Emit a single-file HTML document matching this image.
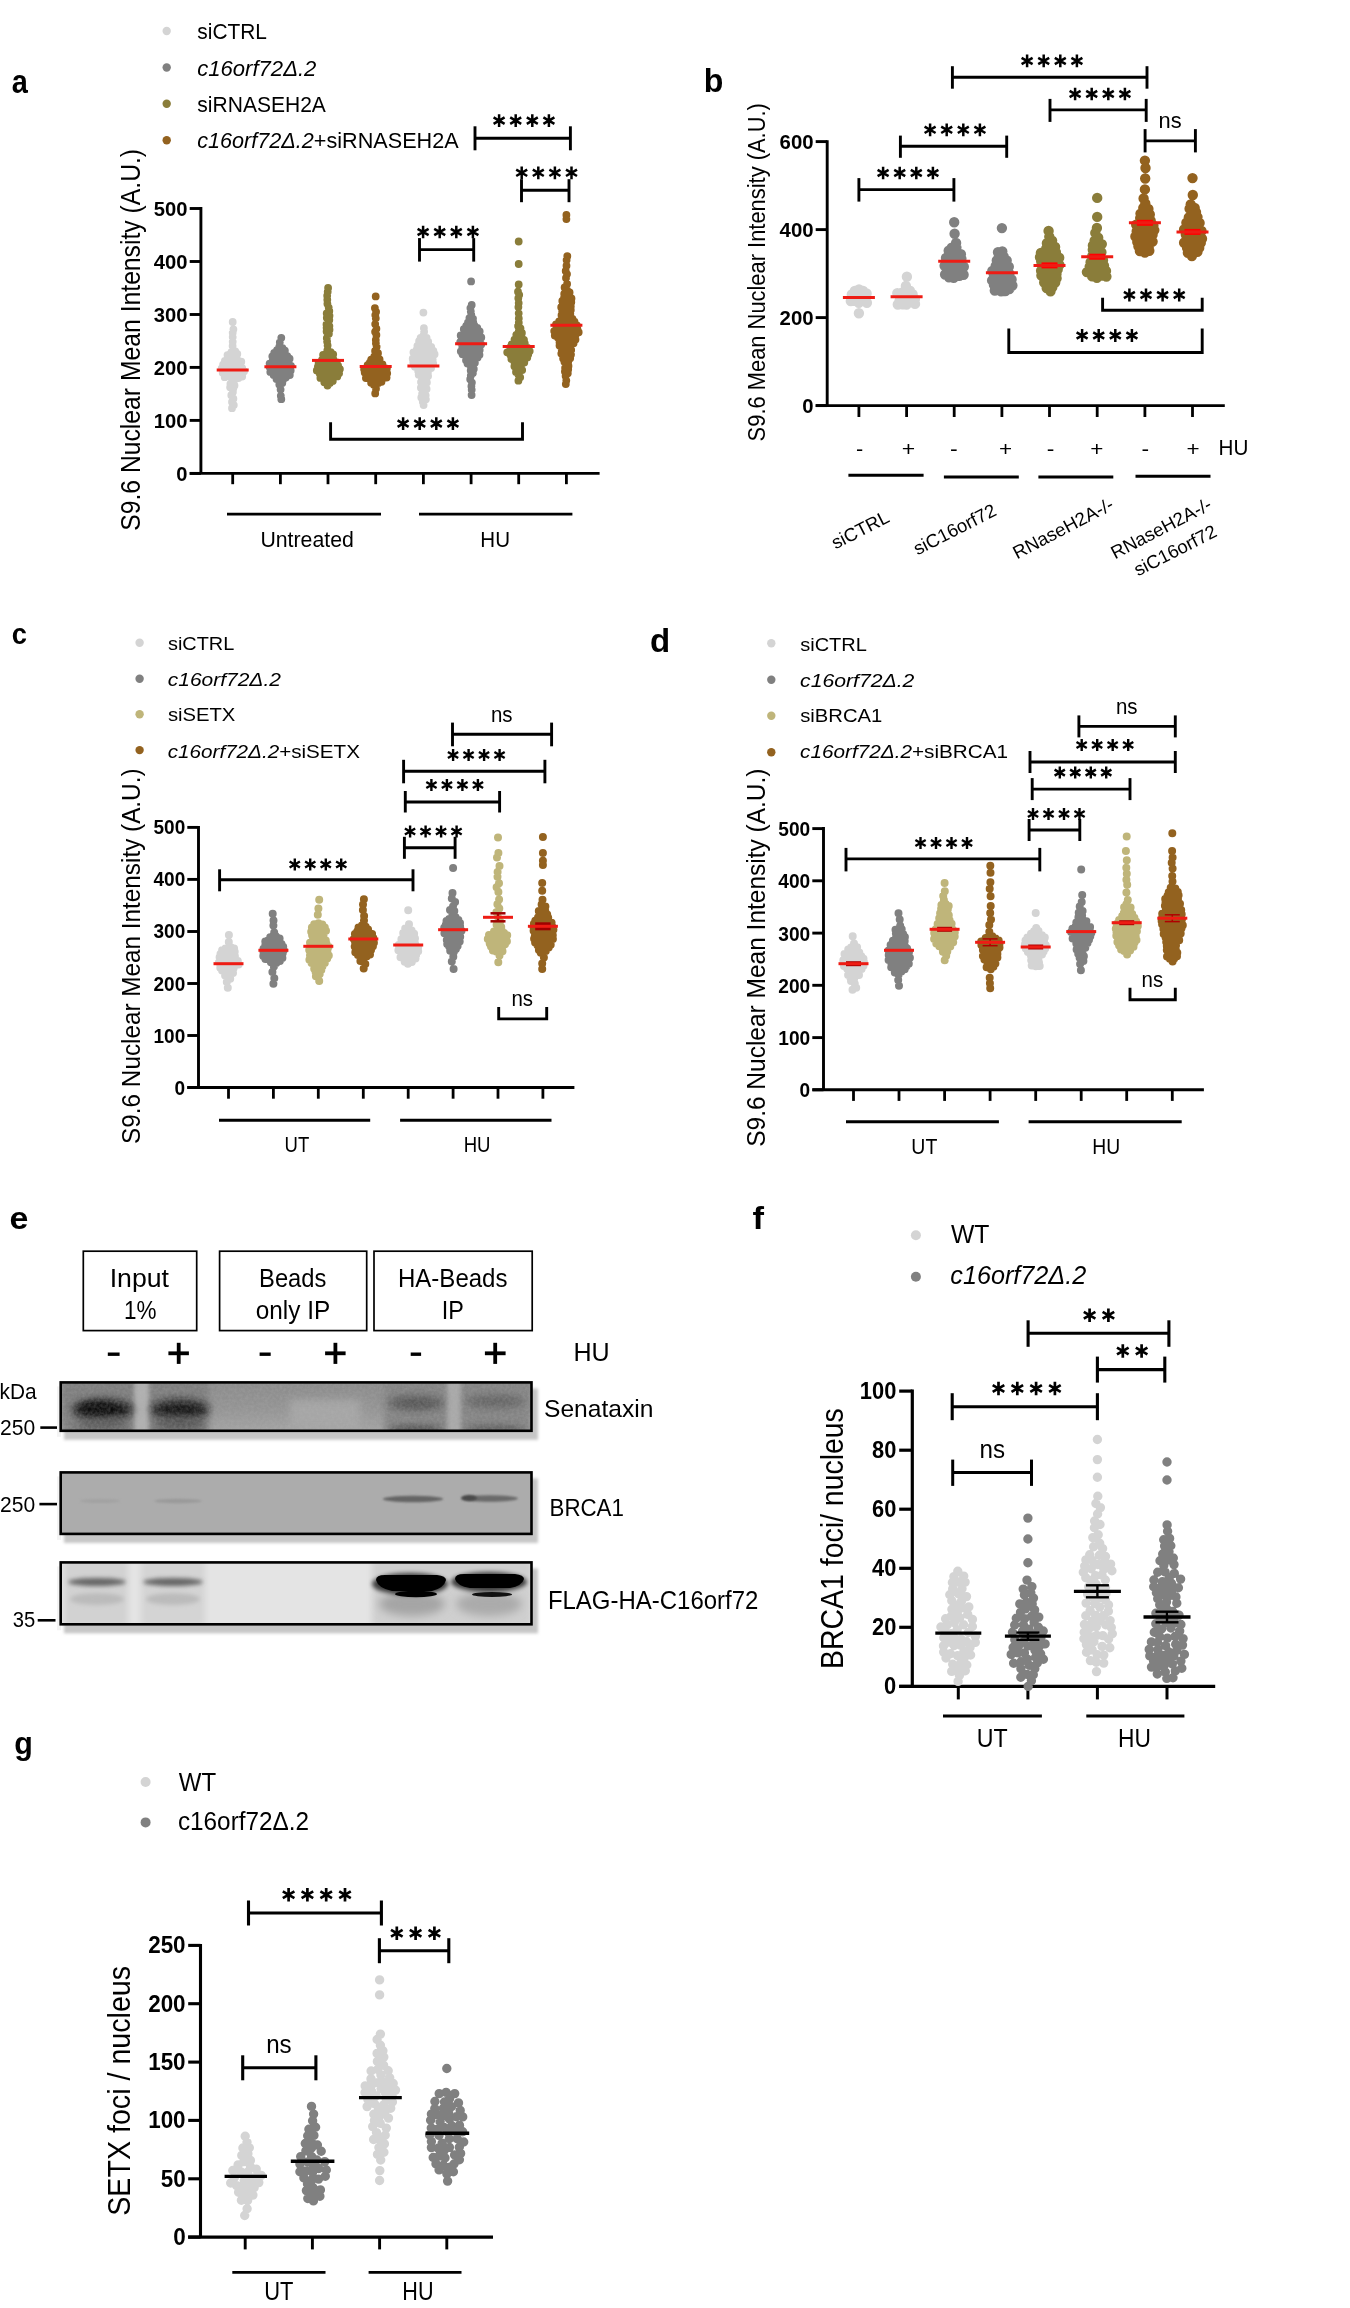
<!DOCTYPE html>
<html><head><meta charset="utf-8"><title>Figure</title>
<style>html,body{margin:0;padding:0;background:#fff;width:1350px;height:2308px;overflow:hidden}
svg{display:block;position:absolute;left:0;top:0;will-change:transform}
text{font-family:"Liberation Sans",sans-serif}</style></head>
<body>
<svg width="1350" height="2308" viewBox="0 0 1350 2308" font-family='"Liberation Sans", sans-serif'>
<rect width="1350" height="2308" fill="#fff"/>
<text x="11.7" y="93.4" font-size="33.2" font-weight="bold" textLength="16.1" lengthAdjust="spacingAndGlyphs">a</text>
<circle cx="166.7" cy="31" r="4.2" fill="#d4d4d4"/>
<circle cx="166.7" cy="67.5" r="4.2" fill="#808080"/>
<circle cx="166.7" cy="103.8" r="4.2" fill="#8a7d3a"/>
<circle cx="166.7" cy="140.3" r="4.2" fill="#93621f"/>
<text x="197.3" y="38.9" font-size="21.2" textLength="69.7" lengthAdjust="spacingAndGlyphs" fill="#000">siCTRL</text>
<text x="197.2" y="75.6" font-size="21.2" textLength="119.2" lengthAdjust="spacingAndGlyphs" fill="#000"><tspan font-style="italic">c16orf72&#916;.2</tspan></text>
<text x="197.3" y="111.5" font-size="21.2" textLength="128.6" lengthAdjust="spacingAndGlyphs" fill="#000">siRNASEH2A</text>
<text x="197.2" y="147.7" font-size="21.2" textLength="261.4" lengthAdjust="spacingAndGlyphs" fill="#000"><tspan font-style="italic">c16orf72&#916;.2</tspan>+siRNASEH2A</text>
<line x1="200.9" y1="473.4" x2="200.9" y2="207.1" stroke="#000" stroke-width="2.9" stroke-linecap="butt"/>
<line x1="189.7" y1="473.4" x2="200.9" y2="473.4" stroke="#000" stroke-width="2.9" stroke-linecap="butt"/>
<text x="176.3" y="480.7" font-size="20.9" font-weight="bold" textLength="11.2" lengthAdjust="spacingAndGlyphs">0</text>
<line x1="189.7" y1="420.4" x2="200.9" y2="420.4" stroke="#000" stroke-width="2.9" stroke-linecap="butt"/>
<text x="153.8" y="427.7" font-size="20.9" font-weight="bold" textLength="33.7" lengthAdjust="spacingAndGlyphs">100</text>
<line x1="189.7" y1="367.4" x2="200.9" y2="367.4" stroke="#000" stroke-width="2.9" stroke-linecap="butt"/>
<text x="153.8" y="374.7" font-size="20.9" font-weight="bold" textLength="33.7" lengthAdjust="spacingAndGlyphs">200</text>
<line x1="189.7" y1="314.5" x2="200.9" y2="314.5" stroke="#000" stroke-width="2.9" stroke-linecap="butt"/>
<text x="153.8" y="321.7" font-size="20.9" font-weight="bold" textLength="33.7" lengthAdjust="spacingAndGlyphs">300</text>
<line x1="189.7" y1="261.5" x2="200.9" y2="261.5" stroke="#000" stroke-width="2.9" stroke-linecap="butt"/>
<text x="153.8" y="268.8" font-size="20.9" font-weight="bold" textLength="33.7" lengthAdjust="spacingAndGlyphs">400</text>
<line x1="189.7" y1="208.5" x2="200.9" y2="208.5" stroke="#000" stroke-width="2.9" stroke-linecap="butt"/>
<text x="153.8" y="215.8" font-size="20.9" font-weight="bold" textLength="33.7" lengthAdjust="spacingAndGlyphs">500</text>
<line x1="189.7" y1="473.4" x2="599.6" y2="473.4" stroke="#000" stroke-width="2.9" stroke-linecap="butt"/>
<line x1="232.7" y1="473.4" x2="232.7" y2="484.2" stroke="#000" stroke-width="2.8" stroke-linecap="butt"/>
<line x1="280.4" y1="473.4" x2="280.4" y2="484.2" stroke="#000" stroke-width="2.8" stroke-linecap="butt"/>
<line x1="328" y1="473.4" x2="328" y2="484.2" stroke="#000" stroke-width="2.8" stroke-linecap="butt"/>
<line x1="375.7" y1="473.4" x2="375.7" y2="484.2" stroke="#000" stroke-width="2.8" stroke-linecap="butt"/>
<line x1="423.4" y1="473.4" x2="423.4" y2="484.2" stroke="#000" stroke-width="2.8" stroke-linecap="butt"/>
<line x1="471.1" y1="473.4" x2="471.1" y2="484.2" stroke="#000" stroke-width="2.8" stroke-linecap="butt"/>
<line x1="518.7" y1="473.4" x2="518.7" y2="484.2" stroke="#000" stroke-width="2.8" stroke-linecap="butt"/>
<line x1="566.4" y1="473.4" x2="566.4" y2="484.2" stroke="#000" stroke-width="2.8" stroke-linecap="butt"/>
<line x1="227" y1="514.1" x2="381" y2="514.1" stroke="#000" stroke-width="2.9" stroke-linecap="butt"/>
<line x1="419" y1="514.1" x2="572.4" y2="514.1" stroke="#000" stroke-width="2.9" stroke-linecap="butt"/>
<text x="260.4" y="547" font-size="22.4" textLength="93.4" lengthAdjust="spacingAndGlyphs" fill="#000">Untreated</text>
<text x="480.3" y="547" font-size="22.4" textLength="29.7" lengthAdjust="spacingAndGlyphs" fill="#000">HU</text>
<text transform="translate(139.8 529.7) rotate(-90)" x="-1.1" y="0" font-size="27.2" textLength="381.9" lengthAdjust="spacingAndGlyphs">S9.6 Nuclear Mean Intensity (A.U.)</text>
<path d="M232 408.2h0M233.4 329.3h0M236.4 369.1h0M232.6 346h0M235.3 351.3h0M232.7 337.1h0M231.7 378.1h0M226.2 369.1h0M234.5 385.4h0M226.5 364.3h0M233.4 398.7h0M236.5 374.9h0M221.7 368.3h0M224.7 377.2h0M233.8 372h0M232.7 332.7h0M231 367.3h0M232.8 363.2h0M235.1 365.7h0M227.5 355.1h0M233.3 388.5h0M231.4 352.1h0M230 370.8h0M229.9 358.4h0M232.7 355.7h0M237.3 354h0M239.3 372.1h0M233.8 405.1h0M222.7 372.7h0M230.4 384h0M236.7 358.1h0M239.8 364.9h0M231.3 395.2h0M228.3 376h0M232.9 391.9h0M238.5 378h0M244.1 371.2h0M234.1 380.4h0M242.2 376.5h0M241.3 361.7h0M232.7 341.7h0M224.9 360.8h0M237 361.5h0M242.2 368.2h0M226.1 372.4h0M233.5 359.5h0M230.1 387.3h0M229.5 361.7h0M232 401.9h0M223.1 364.6h0M232 374.8h0M232.7 321.9h0" stroke="#d4d4d4" stroke-width="7.8" stroke-linecap="round" fill="none"/>
<path d="M281.3 399.2h0M281.3 337.8h0M280.8 395.8h0M277.6 354h0M282.1 362h0M289.8 375h0M270.3 371.9h0M283.1 379.7h0M274.3 366.9h0M284.9 350.7h0M280.9 355.3h0M280.4 369.1h0M282.5 348.1h0M285.4 364.3h0M287.3 356.2h0M276.8 359.2h0M279.3 346.7h0M280.6 389.6h0M272.4 361.4h0M279.9 378.5h0M283.9 370.2h0M273.6 375.1h0M281.6 373.4h0M269.6 366.9h0M285.1 374.1h0M279.3 384.4h0M275.7 363h0M279.1 364h0M288.4 362h0M290.7 370.5h0M275.5 371.1h0M277.3 375.9h0M279.8 342.3h0M277 350.2h0M272.3 356.3h0M291 365.8h0M284.1 357.8h0M286.8 367.9h0M285.8 377.4h0M282.8 366.4h0M281.2 351.2h0M284.5 354.3h0M276.5 379.1h0M274.2 353h0M269.6 363.6h0M282.3 382.9h0M280.2 359h0M287.3 371.2h0M289.6 358.7h0M277.7 367.1h0" stroke="#808080" stroke-width="7.8" stroke-linecap="round" fill="none"/>
<path d="M327.5 385.5h0M328.1 288h0M326.5 324.5h0M327.4 303.8h0M326.6 327.8h0M327.3 299.8h0M326.6 356.1h0M329.3 320h0M329.5 364.9h0M333 357.7h0M327.6 345.4h0M320.4 377.9h0M336.7 370.2h0M336.8 362.3h0M326.7 313.5h0M329.6 361h0M324.6 375.5h0M327.1 341.5h0M328.9 333.8h0M327.2 295.7h0M324.9 378.8h0M331.9 368.7h0M330.7 352.2h0M339.1 373.3h0M327.3 350.3h0M333.1 373.4h0M322 359.9h0M328.7 307.6h0M328.9 379.5h0M321.3 367.3h0M327.6 371.5h0M334 377.1h0M319.7 373.5h0M323.1 355h0M325.5 361.4h0M334 365.8h0M317.9 366.6h0M326.8 338.2h0M322.4 363.6h0M324.4 369.4h0M316.8 370.5h0M327.7 291.8h0M332.8 380.9h0M338.1 365.7h0M326.8 317.8h0M329.5 376.1h0M339.9 369.1h0M329.5 329.7h0M324.3 382.2h0M333.5 362.4h0M323.1 372.6h0M325.7 365.4h0M329.3 311h0M330 355.8h0M318.6 363h0M329.4 326.1h0M328.5 368.1h0M329.9 383.1h0M329.5 315.7h0M337.3 376.4h0M333.2 354.3h0M326.6 331.4h0" stroke="#8a7d3a" stroke-width="7.8" stroke-linecap="round" fill="none"/>
<path d="M375.2 393.4h0M374.9 308.1h0M371.2 359.6h0M370.6 374.5h0M370.1 378.7h0M378.5 376.9h0M375.8 318.3h0M376.6 346.7h0M374.2 356.6h0M375.2 324.1h0M375.8 340h0M378 353.2h0M373.8 384.8h0M374.4 368.4h0M381.5 381.8h0M367.6 365.1h0M386.9 368.6h0M376 388.7h0M375.6 380.6h0M378.4 383h0M383.4 372.2h0M375.1 350.9h0M376.4 334.9h0M376.1 311.8h0M383.2 376.7h0M382.5 364.5h0M373.9 361.7h0M364.1 369.2h0M367.7 371h0M380.4 368.7h0M386.6 377.6h0M375.9 343.3h0M378.9 363.3h0M371.1 366h0M376.4 328.7h0M365.9 378.1h0M376.6 371.4h0M379.6 359.4h0M374.2 377h0M379.8 372.6h0M372.3 371.3h0M371.1 382.8h0M364.7 372.5h0M375.9 365h0M387.2 373.3h0M375.1 331.8h0M377.7 356.6h0M367.3 374.6h0M375.3 315.1h0M369.8 362.6h0M383.6 367.8h0M375.7 296.4h0" stroke="#93621f" stroke-width="7.8" stroke-linecap="round" fill="none"/>
<path d="M423.6 405.1h0M423.9 328.2h0M423.2 335.8h0M416.9 361h0M427.9 346.2h0M425.7 395.3h0M426.6 389h0M426.6 338h0M421 382.1h0M422.1 393.9h0M427.5 358.7h0M426.1 379.1h0M423 368.1h0M433.4 350.9h0M424.1 331.7h0M422.4 359.4h0M427.9 372.7h0M422.5 344.5h0M426.9 382.4h0M414.9 366.7h0M419.9 355.3h0M430.9 355.6h0M427.2 368.4h0M416.7 349.7h0M420.9 387.7h0M432.7 359.7h0M419.1 341.2h0M415.2 355.7h0M419.7 366.9h0M422.8 401.7h0M427.2 354.7h0M424.7 342h0M421.9 377.8h0M418.7 374.7h0M421.3 397.4h0M431.1 368h0M422.7 352.2h0M423.9 373.5h0M425 363.6h0M430 351.2h0M413.2 362.2h0M433.2 363.5h0M418.2 371.1h0M413.4 352.3h0M423 348.9h0M417.4 345.9h0M421.7 362.7h0M429.3 364.8h0M425.9 399.3h0M423 390.6h0M434.6 354.2h0M412.7 358.7h0M424.3 385.4h0M431.2 346.8h0M427 349.6h0M428.2 341.7h0M428.1 376.1h0M424.5 356.7h0M420.6 338h0M417.4 353.1h0M429.7 361.2h0M420 350.3h0M417.4 364.5h0M421.6 371.2h0M423.4 312.6h0" stroke="#d4d4d4" stroke-width="7.8" stroke-linecap="round" fill="none"/>
<path d="M471.6 395h0M471.7 304.9h0M460.8 351.3h0M476.5 335.3h0M471.6 329.3h0M472.1 333.6h0M473.3 322.5h0M467.8 333.2h0M468 322.5h0M474.6 342h0M474.6 347.7h0M470.9 366.9h0M471.9 382.6h0M477.3 327.8h0M474.4 358.1h0M470.6 362.5h0M470.8 311.4h0M468.6 351.9h0M471.7 389.8h0M469.4 318.1h0M471.4 386.2h0M462.9 338.3h0M464.2 332.5h0M474.7 354.7h0M464.5 343.8h0M466 360.3h0M467.9 329.3h0M475.8 331.2h0M470.7 370.4h0M462.3 347.1h0M479.5 354.8h0M479.7 331.5h0M460.7 335.4h0M479.6 341.4h0M465.7 355.5h0M470.2 379.2h0M473.4 351.1h0M479.7 350h0M468.4 358h0M471.3 314.9h0M481.3 337.4h0M468.1 348.6h0M481.2 344.4h0M470.8 375.6h0M467.4 339h0M471.8 339.1h0M471 346.1h0M470.2 355h0M473 318.6h0M469.8 325.4h0M460.2 342.1h0M474.9 362.8h0M470.4 308.1h0M474.5 325.6h0M478.3 346.8h0M462.5 354.3h0M476.5 338.8h0M466.2 326h0M467.5 363.6h0M464.2 350.2h0M468 344.7h0M476.8 351.9h0M470.9 342.6h0M463.8 329.2h0M473.8 369h0M465.3 335.9h0M470.1 336.1h0M472.9 372.9h0M477.6 357.6h0M471.1 281.4h0" stroke="#808080" stroke-width="7.8" stroke-linecap="round" fill="none"/>
<path d="M518.4 380.7h0M518 291.7h0M518.8 322.7h0M518.9 348.1h0M518.4 374.5h0M518.4 307.1h0M510.4 354.9h0M510.2 347.5h0M519.9 342.6h0M518.8 318.5h0M518.7 313.3h0M514.5 339.6h0M517.9 369.2h0M518.7 303.1h0M515.8 355.9h0M520.2 359.9h0M527.7 347.8h0M514.4 366.2h0M518.1 326h0M526 351.3h0M522.8 355.8h0M514 361.1h0M524.3 362.5h0M529.7 351.1h0M524.8 343.4h0M521.1 365.3h0M518.8 331.2h0M527.3 357.6h0M516.3 334.8h0M507.2 352.3h0M518.3 298.2h0M513.3 349.8h0M522 345.7h0M521.6 337.1h0M516.8 343.8h0M518.7 353.3h0M515.5 347h0M522.2 370.1h0M511.4 359h0M519.2 294.8h0M517.2 362h0M518.6 339.1h0M511.6 344.4h0M521.9 332.9h0M522.8 350.3h0M520.2 377.3h0M524 340h0M519.4 356.6h0M517.7 365.3h0M524.3 359h0M528.3 354.3h0M516.6 350.6h0M516 372h0M513.6 353.4h0M520.5 328.3h0M518.7 284.4h0M518.7 264h0M518.7 241.5h0" stroke="#8a7d3a" stroke-width="7.8" stroke-linecap="round" fill="none"/>
<path d="M565.8 384.1h0M567.3 256.2h0M567.8 373.2h0M566.3 325.4h0M571.2 350h0M560.7 335.6h0M567.8 295.7h0M568.5 365.9h0M574.5 321.6h0M566.6 358.8h0M572.5 318.9h0M562.1 319.2h0M564.7 352.9h0M564.4 361.7h0M570.3 345.7h0M565.1 340.4h0M561.3 330.7h0M565.6 376.1h0M572.3 334.7h0M570.8 309.9h0M568.8 327.6h0M577.4 328.8h0M564.2 293.9h0M567.8 301.3h0M566.8 355.5h0M567.1 283.9h0M565.6 306.7h0M561.7 349.5h0M566 278h0M566.5 265.7h0M573.6 343.2h0M559.5 342.3h0M568.3 331.1h0M568.6 316.6h0M566.8 347.1h0M562.3 300.9h0M567.7 338h0M567 289.9h0M568.2 361.9h0M554.2 331.1h0M563.1 358.6h0M565.1 317.3h0M565.9 312.1h0M566.1 334.9h0M573.3 326.7h0M562.8 304.3h0M570.8 306.5h0M562.4 327.4h0M566.3 380.6h0M569.9 341.5h0M565.1 368h0M556.5 327.8h0M562.9 345.3h0M571.5 298.5h0M565.7 270.9h0M559.1 321.3h0M575.8 334.6h0M569.2 320.4h0M571.3 338.2h0M564.6 287.5h0M564.7 331.6h0M559.2 325.3h0M571.9 331.4h0M562.2 311.4h0M561.5 315.2h0M575.5 339.4h0M566.6 260h0M571 354.6h0M570.3 313.7h0M561.1 339.3h0M571.3 302.2h0M561.3 353.6h0M554.8 335.5h0M561.2 307.2h0M564.1 297.6h0M570.2 324.3h0M563.9 322.7h0M557.8 337.6h0M569.6 292.5h0M567 274.1h0M567.8 350.6h0M578.7 332.2h0M559.5 345.6h0M558 331.1h0M576.9 325.5h0M570.2 358.3h0M564.9 371.5h0M566.3 343.6h0M568.2 369.5h0M556 324.4h0M566.4 219.1h0M566.4 214.9h0" stroke="#93621f" stroke-width="7.8" stroke-linecap="round" fill="none"/>
<line x1="216.7" y1="369.9" x2="248.7" y2="369.9" stroke="#ee1c14" stroke-width="3" stroke-linecap="butt"/>
<line x1="264.4" y1="366.7" x2="296.4" y2="366.7" stroke="#ee1c14" stroke-width="3" stroke-linecap="butt"/>
<line x1="312" y1="360.4" x2="344" y2="360.4" stroke="#ee1c14" stroke-width="3" stroke-linecap="butt"/>
<line x1="359.7" y1="366.4" x2="391.7" y2="366.4" stroke="#ee1c14" stroke-width="3" stroke-linecap="butt"/>
<line x1="407.4" y1="366.1" x2="439.4" y2="366.1" stroke="#ee1c14" stroke-width="3" stroke-linecap="butt"/>
<line x1="455.1" y1="343.8" x2="487.1" y2="343.8" stroke="#ee1c14" stroke-width="3" stroke-linecap="butt"/>
<line x1="502.7" y1="346.4" x2="534.7" y2="346.4" stroke="#ee1c14" stroke-width="3" stroke-linecap="butt"/>
<line x1="550.4" y1="325.3" x2="582.4" y2="325.3" stroke="#ee1c14" stroke-width="3" stroke-linecap="butt"/>
<line x1="475" y1="138.3" x2="570.4" y2="138.3" stroke="#000" stroke-width="2.9" stroke-linecap="butt"/>
<line x1="475" y1="126.3" x2="475" y2="150.3" stroke="#000" stroke-width="2.9" stroke-linecap="butt"/>
<line x1="570.4" y1="126.3" x2="570.4" y2="150.3" stroke="#000" stroke-width="2.9" stroke-linecap="butt"/>
<path d="M499.1 114.2L499.1 126.9M493.6 117.4L504.6 123.8M493.6 123.8L504.6 117.4" stroke="#000" stroke-width="2.5" stroke-linecap="butt"/>
<path d="M515.7 114.2L515.7 126.9M510.2 117.4L521.2 123.8M510.2 123.8L521.2 117.4" stroke="#000" stroke-width="2.5" stroke-linecap="butt"/>
<path d="M532.3 114.2L532.3 126.9M526.8 117.4L537.8 123.8M526.8 123.8L537.8 117.4" stroke="#000" stroke-width="2.5" stroke-linecap="butt"/>
<path d="M548.9 114.2L548.9 126.9M543.4 117.4L554.4 123.8M543.4 123.8L554.4 117.4" stroke="#000" stroke-width="2.5" stroke-linecap="butt"/>
<line x1="521.5" y1="190.2" x2="569" y2="190.2" stroke="#000" stroke-width="2.9" stroke-linecap="butt"/>
<line x1="521.5" y1="179.2" x2="521.5" y2="202.2" stroke="#000" stroke-width="2.9" stroke-linecap="butt"/>
<line x1="569" y1="179.2" x2="569" y2="202.2" stroke="#000" stroke-width="2.9" stroke-linecap="butt"/>
<path d="M521.7 166.5L521.7 179.2M516.2 169.6L527.2 176M516.2 176L527.2 169.6" stroke="#000" stroke-width="2.5" stroke-linecap="butt"/>
<path d="M538.3 166.5L538.3 179.2M532.8 169.6L543.8 176M532.8 176L543.8 169.6" stroke="#000" stroke-width="2.5" stroke-linecap="butt"/>
<path d="M554.9 166.5L554.9 179.2M549.4 169.6L560.4 176M549.4 176L560.4 169.6" stroke="#000" stroke-width="2.5" stroke-linecap="butt"/>
<path d="M571.5 166.5L571.5 179.2M566 169.6L577 176M566 176L577 169.6" stroke="#000" stroke-width="2.5" stroke-linecap="butt"/>
<line x1="419.5" y1="249.6" x2="473.7" y2="249.6" stroke="#000" stroke-width="2.9" stroke-linecap="butt"/>
<line x1="419.5" y1="238.1" x2="419.5" y2="261.6" stroke="#000" stroke-width="2.9" stroke-linecap="butt"/>
<line x1="473.7" y1="238.1" x2="473.7" y2="261.6" stroke="#000" stroke-width="2.9" stroke-linecap="butt"/>
<path d="M423.1 225.7L423.1 238.3M417.6 228.8L428.6 235.2M417.6 235.2L428.6 228.8" stroke="#000" stroke-width="2.5" stroke-linecap="butt"/>
<path d="M439.7 225.7L439.7 238.3M434.2 228.8L445.2 235.2M434.2 235.2L445.2 228.8" stroke="#000" stroke-width="2.5" stroke-linecap="butt"/>
<path d="M456.3 225.7L456.3 238.3M450.8 228.8L461.8 235.2M450.8 235.2L461.8 228.8" stroke="#000" stroke-width="2.5" stroke-linecap="butt"/>
<path d="M472.9 225.7L472.9 238.3M467.4 228.8L478.4 235.2M467.4 235.2L478.4 228.8" stroke="#000" stroke-width="2.5" stroke-linecap="butt"/>
<path d="M330.6 422.2L330.6 439.2L522.5 439.2L522.5 422.2" fill="none" stroke="#000" stroke-width="2.9" stroke-linejoin="miter"/>
<path d="M403.1 417.2L403.1 430M397.6 420.4L408.6 426.8M397.6 426.8L408.6 420.4" stroke="#000" stroke-width="2.5" stroke-linecap="butt"/>
<path d="M419.7 417.2L419.7 430M414.2 420.4L425.2 426.8M414.2 426.8L425.2 420.4" stroke="#000" stroke-width="2.5" stroke-linecap="butt"/>
<path d="M436.3 417.2L436.3 430M430.8 420.4L441.8 426.8M430.8 426.8L441.8 420.4" stroke="#000" stroke-width="2.5" stroke-linecap="butt"/>
<path d="M452.9 417.2L452.9 430M447.4 420.4L458.4 426.8M447.4 426.8L458.4 420.4" stroke="#000" stroke-width="2.5" stroke-linecap="butt"/>
<text x="703.7" y="91.7" font-size="32.7" font-weight="bold" textLength="19.6" lengthAdjust="spacingAndGlyphs">b</text>
<line x1="827.2" y1="405.6" x2="827.2" y2="140.2" stroke="#000" stroke-width="2.9" stroke-linecap="butt"/>
<line x1="815.7" y1="405.6" x2="827.2" y2="405.6" stroke="#000" stroke-width="2.9" stroke-linecap="butt"/>
<text x="802.3" y="412.9" font-size="20.9" font-weight="bold" textLength="11.3" lengthAdjust="spacingAndGlyphs">0</text>
<line x1="815.7" y1="317.6" x2="827.2" y2="317.6" stroke="#000" stroke-width="2.9" stroke-linecap="butt"/>
<text x="779.6" y="324.9" font-size="20.9" font-weight="bold" textLength="34" lengthAdjust="spacingAndGlyphs">200</text>
<line x1="815.7" y1="229.6" x2="827.2" y2="229.6" stroke="#000" stroke-width="2.9" stroke-linecap="butt"/>
<text x="779.6" y="236.9" font-size="20.9" font-weight="bold" textLength="34" lengthAdjust="spacingAndGlyphs">400</text>
<line x1="815.7" y1="141.6" x2="827.2" y2="141.6" stroke="#000" stroke-width="2.9" stroke-linecap="butt"/>
<text x="779.6" y="148.9" font-size="20.9" font-weight="bold" textLength="34" lengthAdjust="spacingAndGlyphs">600</text>
<line x1="815.7" y1="405.6" x2="1224.8" y2="405.6" stroke="#000" stroke-width="2.9" stroke-linecap="butt"/>
<line x1="858.9" y1="405.6" x2="858.9" y2="417" stroke="#000" stroke-width="2.8" stroke-linecap="butt"/>
<line x1="906.6" y1="405.6" x2="906.6" y2="417" stroke="#000" stroke-width="2.8" stroke-linecap="butt"/>
<line x1="954.2" y1="405.6" x2="954.2" y2="417" stroke="#000" stroke-width="2.8" stroke-linecap="butt"/>
<line x1="1001.9" y1="405.6" x2="1001.9" y2="417" stroke="#000" stroke-width="2.8" stroke-linecap="butt"/>
<line x1="1049.5" y1="405.6" x2="1049.5" y2="417" stroke="#000" stroke-width="2.8" stroke-linecap="butt"/>
<line x1="1097.2" y1="405.6" x2="1097.2" y2="417" stroke="#000" stroke-width="2.8" stroke-linecap="butt"/>
<line x1="1144.9" y1="405.6" x2="1144.9" y2="417" stroke="#000" stroke-width="2.8" stroke-linecap="butt"/>
<line x1="1192.5" y1="405.6" x2="1192.5" y2="417" stroke="#000" stroke-width="2.8" stroke-linecap="butt"/>
<text transform="translate(765 440.4) rotate(-90)" x="-1" y="0" font-size="23.1" textLength="338.3" lengthAdjust="spacingAndGlyphs">S9.6 Mean Nuclear Intensity (A.U.)</text>
<text x="856.1" y="455.5" font-size="21" textLength="7.2" lengthAdjust="spacingAndGlyphs" fill="#000">-</text>
<text x="950" y="455.5" font-size="21" textLength="7.7" lengthAdjust="spacingAndGlyphs" fill="#000">-</text>
<text x="1046.8" y="455.5" font-size="21" textLength="7.6" lengthAdjust="spacingAndGlyphs" fill="#000">-</text>
<text x="1141.4" y="455.5" font-size="21" textLength="7.6" lengthAdjust="spacingAndGlyphs" fill="#000">-</text>
<text x="901.7" y="455.5" font-size="21" textLength="13.4" lengthAdjust="spacingAndGlyphs" fill="#000">+</text>
<text x="999.1" y="455.5" font-size="21" textLength="13.1" lengthAdjust="spacingAndGlyphs" fill="#000">+</text>
<text x="1090.3" y="455.5" font-size="21" textLength="13.1" lengthAdjust="spacingAndGlyphs" fill="#000">+</text>
<text x="1186.4" y="455.5" font-size="21" textLength="13.1" lengthAdjust="spacingAndGlyphs" fill="#000">+</text>
<text x="1218.5" y="454.9" font-size="22.7" textLength="29.8" lengthAdjust="spacingAndGlyphs" fill="#000">HU</text>
<line x1="848.4" y1="475.3" x2="923.6" y2="475.3" stroke="#000" stroke-width="2.9" stroke-linecap="butt"/>
<line x1="943.9" y1="477" x2="1018.8" y2="477" stroke="#000" stroke-width="2.9" stroke-linecap="butt"/>
<line x1="1038.4" y1="477" x2="1113.3" y2="477" stroke="#000" stroke-width="2.9" stroke-linecap="butt"/>
<line x1="1135.5" y1="476.3" x2="1210.5" y2="476.3" stroke="#000" stroke-width="2.9" stroke-linecap="butt"/>
<text x="835.5" y="549.5" font-size="18.6" text-anchor="start" transform="rotate(-27 835.5 549.5)" fill="#000">siCTRL</text>
<text x="917.5" y="555.5" font-size="18.6" text-anchor="start" transform="rotate(-27 917.5 555.5)" fill="#000">siC16orf72</text>
<text x="1017" y="559.5" font-size="18.6" text-anchor="start" transform="rotate(-27.5 1017 559.5)" fill="#000">RNaseH2A-/-</text>
<text x="1115" y="559.5" font-size="18.6" text-anchor="start" transform="rotate(-27.5 1115 559.5)" fill="#000">RNaseH2A-/-</text>
<text x="1138" y="576.5" font-size="18.6" text-anchor="start" transform="rotate(-27 1138 576.5)" fill="#000">siC16orf72</text>
<path d="M858.8 302.7h0M859 289.5h0M859.1 294.9h0M851.8 294.4h0M865.2 298.7h0M866.6 293.5h0M866.9 302.7h0M850.8 301.1h0M854.8 299.3h0M854.8 290.9h0M863.1 291h0M860.8 298.9h0M858.9 313.3h0" stroke="#d4d4d4" stroke-width="10.4" stroke-linecap="round" fill="none"/>
<path d="M906.5 304.6h0M906.9 276.7h0M905.9 286h0M912.6 294.2h0M899.6 300.6h0M897.3 293.3h0M909.1 300.8h0M904.5 299.8h0M906.1 292.9h0M901.8 292.6h0M914.9 299.3h0M915 303.9h0M897.8 304.5h0M908.9 296.4h0M902.2 304.4h0M909.9 290.8h0" stroke="#d4d4d4" stroke-width="10.4" stroke-linecap="round" fill="none"/>
<path d="M953.7 277.8h0M954.6 233.8h0M947 269.6h0M951.2 254.4h0M956.2 258.8h0M949 277.2h0M956.1 242.9h0M960.4 264h0M956.4 247.4h0M953.1 271.9h0M956.3 266.7h0M959.4 275.9h0M961.8 270.8h0M957 251.8h0M947.8 262.8h0M951.7 247.7h0M953 263.2h0M960.9 254.3h0M946 258h0M951.5 267.5h0M961.4 258.7h0M945.1 274.5h0M951 259.3h0M963.6 274.8h0M963.8 266.7h0M948.7 250.8h0M957.4 271.5h0M944.6 265.7h0M954.2 222.2h0" stroke="#808080" stroke-width="10.4" stroke-linecap="round" fill="none"/>
<path d="M1001.1 291.2h0M1002.3 251.4h0M1006.8 280.4h0M1004.6 265h0M994 275.4h0M998.9 282.3h0M1005.4 285.3h0M993.9 284.7h0M1009.4 273.8h0M995.7 266h0M998.9 256.4h0M1001.6 269.9h0M1003.3 274.4h0M1006.7 260.4h0M1008.8 266.8h0M1003.7 256.8h0M996.6 270.5h0M999.5 276.4h0M1000.6 286.8h0M1011.6 279.4h0M1009.3 289.1h0M994.8 290.6h0M992.1 280.4h0M996.8 260.4h0M1012.4 285.5h0M1001.6 261.2h0M1000.1 265.3h0M1002.7 279.4h0M1006.1 270.4h0M992.3 271h0M998 252.2h0M1005.4 291.1h0M1001.9 228.1h0" stroke="#808080" stroke-width="10.4" stroke-linecap="round" fill="none"/>
<path d="M1050.5 291.2h0M1048.6 230.9h0M1055.1 246.9h0M1046.3 248.5h0M1048.6 260.4h0M1050.8 265.9h0M1057.7 269.5h0M1055.9 252.3h0M1041.2 261.4h0M1049.2 284.2h0M1043.2 267h0M1046.2 272.5h0M1049.3 236.7h0M1046.9 243.2h0M1056.6 261.5h0M1056.5 273.9h0M1054.8 256.9h0M1045 255.5h0M1051.3 253.9h0M1055.2 282.6h0M1052.9 271.3h0M1051.1 245.4h0M1045.4 277.6h0M1050.6 279.9h0M1040.9 253h0M1059.4 264.9h0M1044.2 282.5h0M1052.1 240.6h0M1056.6 278.3h0M1041.4 275.5h0M1050.6 275.2h0M1046.7 288h0M1045.4 263.2h0M1041.1 270.8h0M1052.3 287.3h0M1059.2 257.8h0M1050.5 249.7h0M1040 257.2h0" stroke="#8a7d3a" stroke-width="10.4" stroke-linecap="round" fill="none"/>
<path d="M1096.9 277.8h0M1097.2 216.9h0M1096.3 252.4h0M1098.2 237.7h0M1093.6 269.2h0M1094.8 259.8h0M1098.8 256.6h0M1092.2 276.4h0M1096.9 228h0M1086.9 272.1h0M1106 270.9h0M1090.6 262.2h0M1101.6 275.5h0M1092.8 249.7h0M1104 265.7h0M1099.7 264.1h0M1098.4 247.9h0M1101.8 244.1h0M1092.3 256h0M1101.4 252.2h0M1094.6 240.7h0M1106.4 276.6h0M1092.9 245.4h0M1103 260.2h0M1096.8 273.4h0M1100.9 269.1h0M1089.7 266.6h0M1095.3 232.9h0M1094.8 264.8h0M1097.2 197.9h0" stroke="#8a7d3a" stroke-width="10.4" stroke-linecap="round" fill="none"/>
<path d="M1144.9 252.5h0M1145.5 168h0M1142.8 243.2h0M1144.9 189.4h0M1153.4 225.7h0M1145.2 178.5h0M1152.6 234.8h0M1143.6 198.5h0M1139.9 251h0M1150.7 220.8h0M1143.3 208h0M1152.6 241.6h0M1149.7 229.5h0M1136.7 231.3h0M1145.6 234.6h0M1144.6 227.6h0M1145.7 219.3h0M1148.4 208.9h0M1135.4 236.5h0M1144.9 214.5h0M1140.2 236.6h0M1140.2 218.1h0M1139.7 228.1h0M1148.9 246.3h0M1137.3 242h0M1145.3 203.4h0M1141.8 222.9h0M1149.3 250.7h0M1147.7 240.4h0M1136.2 224.8h0M1140.5 213.6h0M1154.3 230.1h0M1138.4 246.2h0M1149.8 214.5h0M1147.3 223.6h0M1143.9 247.9h0M1141.8 232.1h0M1144.9 160.6h0" stroke="#93621f" stroke-width="10.4" stroke-linecap="round" fill="none"/>
<path d="M1191.9 256h0M1192.8 195h0M1192.3 235.6h0M1191.8 225.9h0M1196.1 239.9h0M1198.4 236.2h0M1195.3 220.9h0M1184.1 242.8h0M1188.8 217.5h0M1191.6 214.2h0M1196.4 226.7h0M1186.4 222.8h0M1194.7 246.7h0M1199.6 222.9h0M1190.5 230.6h0M1190.7 204.4h0M1189.6 208.7h0M1197.5 217.1h0M1200.8 242.8h0M1192.4 250.9h0M1189.5 243.3h0M1185.8 234.4h0M1194.7 207.9h0M1186.4 239.1h0M1197.2 231.1h0M1197.4 251.9h0M1187.9 252.8h0M1184.1 229.4h0M1199.2 247.9h0M1201.5 231h0M1196 212.1h0M1202 238.7h0M1187.1 247.9h0M1191 221.4h0M1192.5 178.1h0" stroke="#93621f" stroke-width="10.4" stroke-linecap="round" fill="none"/>
<rect x="1041.5" y="262.4" width="16" height="6" fill="#ff0000"/>
<rect x="1089.2" y="253.7" width="16" height="6" fill="#ff0000"/>
<rect x="1136.9" y="219.8" width="16" height="6" fill="#ff0000"/>
<rect x="1184.5" y="228.9" width="16" height="6" fill="#ff0000"/>
<line x1="842.9" y1="297.5" x2="874.9" y2="297.5" stroke="#ee1c14" stroke-width="3" stroke-linecap="butt"/>
<line x1="890.6" y1="296.7" x2="922.6" y2="296.7" stroke="#ee1c14" stroke-width="3" stroke-linecap="butt"/>
<line x1="938.2" y1="261.2" x2="970.2" y2="261.2" stroke="#ee1c14" stroke-width="3" stroke-linecap="butt"/>
<line x1="985.9" y1="272.8" x2="1017.9" y2="272.8" stroke="#ee1c14" stroke-width="3" stroke-linecap="butt"/>
<line x1="1033.5" y1="265.4" x2="1065.5" y2="265.4" stroke="#ee1c14" stroke-width="3" stroke-linecap="butt"/>
<line x1="1081.2" y1="256.7" x2="1113.2" y2="256.7" stroke="#ee1c14" stroke-width="3" stroke-linecap="butt"/>
<line x1="1128.9" y1="222.8" x2="1160.9" y2="222.8" stroke="#ee1c14" stroke-width="3" stroke-linecap="butt"/>
<line x1="1176.5" y1="231.9" x2="1208.5" y2="231.9" stroke="#ee1c14" stroke-width="3" stroke-linecap="butt"/>
<line x1="858.9" y1="189.6" x2="953.9" y2="189.6" stroke="#000" stroke-width="2.9" stroke-linecap="butt"/>
<line x1="858.9" y1="178.1" x2="858.9" y2="201.6" stroke="#000" stroke-width="2.9" stroke-linecap="butt"/>
<line x1="953.9" y1="178.1" x2="953.9" y2="201.6" stroke="#000" stroke-width="2.9" stroke-linecap="butt"/>
<path d="M883.1 166.7L883.1 179.3M877.6 169.8L888.6 176.2M877.6 176.2L888.6 169.8" stroke="#000" stroke-width="2.5" stroke-linecap="butt"/>
<path d="M899.7 166.7L899.7 179.3M894.2 169.8L905.2 176.2M894.2 176.2L905.2 169.8" stroke="#000" stroke-width="2.5" stroke-linecap="butt"/>
<path d="M916.3 166.7L916.3 179.3M910.8 169.8L921.8 176.2M910.8 176.2L921.8 169.8" stroke="#000" stroke-width="2.5" stroke-linecap="butt"/>
<path d="M932.9 166.7L932.9 179.3M927.4 169.8L938.4 176.2M927.4 176.2L938.4 169.8" stroke="#000" stroke-width="2.5" stroke-linecap="butt"/>
<line x1="900.4" y1="146.3" x2="1006.7" y2="146.3" stroke="#000" stroke-width="2.9" stroke-linecap="butt"/>
<line x1="900.4" y1="135.6" x2="900.4" y2="157.8" stroke="#000" stroke-width="2.9" stroke-linecap="butt"/>
<line x1="1006.7" y1="135.6" x2="1006.7" y2="157.8" stroke="#000" stroke-width="2.9" stroke-linecap="butt"/>
<path d="M930.1 123.5L930.1 136.2M924.6 126.6L935.6 133M924.6 133L935.6 126.6" stroke="#000" stroke-width="2.5" stroke-linecap="butt"/>
<path d="M946.7 123.5L946.7 136.2M941.2 126.6L952.2 133M941.2 133L952.2 126.6" stroke="#000" stroke-width="2.5" stroke-linecap="butt"/>
<path d="M963.3 123.5L963.3 136.2M957.8 126.6L968.8 133M957.8 133L968.8 126.6" stroke="#000" stroke-width="2.5" stroke-linecap="butt"/>
<path d="M979.9 123.5L979.9 136.2M974.4 126.6L985.4 133M974.4 133L985.4 126.6" stroke="#000" stroke-width="2.5" stroke-linecap="butt"/>
<line x1="952.4" y1="77.2" x2="1147" y2="77.2" stroke="#000" stroke-width="2.9" stroke-linecap="butt"/>
<line x1="952.4" y1="66.2" x2="952.4" y2="88.7" stroke="#000" stroke-width="2.9" stroke-linecap="butt"/>
<line x1="1147" y1="66.2" x2="1147" y2="88.7" stroke="#000" stroke-width="2.9" stroke-linecap="butt"/>
<path d="M1027.1 54.6L1027.1 67.3M1021.6 57.8L1032.6 64.2M1021.6 64.2L1032.6 57.8" stroke="#000" stroke-width="2.5" stroke-linecap="butt"/>
<path d="M1043.7 54.6L1043.7 67.3M1038.2 57.8L1049.2 64.2M1038.2 64.2L1049.2 57.8" stroke="#000" stroke-width="2.5" stroke-linecap="butt"/>
<path d="M1060.3 54.6L1060.3 67.3M1054.8 57.8L1065.8 64.2M1054.8 64.2L1065.8 57.8" stroke="#000" stroke-width="2.5" stroke-linecap="butt"/>
<path d="M1076.9 54.6L1076.9 67.3M1071.4 57.8L1082.4 64.2M1071.4 64.2L1082.4 57.8" stroke="#000" stroke-width="2.5" stroke-linecap="butt"/>
<line x1="1050" y1="109.9" x2="1146.2" y2="109.9" stroke="#000" stroke-width="2.9" stroke-linecap="butt"/>
<line x1="1050" y1="98.9" x2="1050" y2="121.9" stroke="#000" stroke-width="2.9" stroke-linecap="butt"/>
<line x1="1146.2" y1="98.9" x2="1146.2" y2="121.9" stroke="#000" stroke-width="2.9" stroke-linecap="butt"/>
<path d="M1075.1 87.7L1075.1 100.3M1069.6 90.8L1080.6 97.2M1069.6 97.2L1080.6 90.8" stroke="#000" stroke-width="2.5" stroke-linecap="butt"/>
<path d="M1091.7 87.7L1091.7 100.3M1086.2 90.8L1097.2 97.2M1086.2 97.2L1097.2 90.8" stroke="#000" stroke-width="2.5" stroke-linecap="butt"/>
<path d="M1108.3 87.7L1108.3 100.3M1102.8 90.8L1113.8 97.2M1102.8 97.2L1113.8 90.8" stroke="#000" stroke-width="2.5" stroke-linecap="butt"/>
<path d="M1124.9 87.7L1124.9 100.3M1119.4 90.8L1130.4 97.2M1119.4 97.2L1130.4 90.8" stroke="#000" stroke-width="2.5" stroke-linecap="butt"/>
<line x1="1145.1" y1="140.9" x2="1195.4" y2="140.9" stroke="#000" stroke-width="2.9" stroke-linecap="butt"/>
<line x1="1145.1" y1="129.1" x2="1145.1" y2="152.4" stroke="#000" stroke-width="2.9" stroke-linecap="butt"/>
<line x1="1195.4" y1="129.1" x2="1195.4" y2="152.4" stroke="#000" stroke-width="2.9" stroke-linecap="butt"/>
<text x="1158.6" y="127.8" font-size="22" textLength="23.1" lengthAdjust="spacingAndGlyphs" fill="#000">ns</text>
<path d="M1102.6 297.8L1102.6 310.3L1202.2 310.3L1202.2 297.8" fill="none" stroke="#000" stroke-width="2.9" stroke-linejoin="miter"/>
<path d="M1129.4 288.6L1129.4 301.4M1123.9 291.8L1134.9 298.2M1123.9 298.2L1134.9 291.8" stroke="#000" stroke-width="2.5" stroke-linecap="butt"/>
<path d="M1146 288.6L1146 301.4M1140.5 291.8L1151.5 298.2M1140.5 298.2L1151.5 291.8" stroke="#000" stroke-width="2.5" stroke-linecap="butt"/>
<path d="M1162.6 288.6L1162.6 301.4M1157.1 291.8L1168.1 298.2M1157.1 298.2L1168.1 291.8" stroke="#000" stroke-width="2.5" stroke-linecap="butt"/>
<path d="M1179.2 288.6L1179.2 301.4M1173.7 291.8L1184.7 298.2M1173.7 298.2L1184.7 291.8" stroke="#000" stroke-width="2.5" stroke-linecap="butt"/>
<path d="M1008.8 328.5L1008.8 352.5L1202.2 352.5L1202.2 328.5" fill="none" stroke="#000" stroke-width="2.9" stroke-linejoin="miter"/>
<path d="M1082.1 329.1L1082.1 341.9M1076.6 332.3L1087.6 338.7M1076.6 338.7L1087.6 332.3" stroke="#000" stroke-width="2.5" stroke-linecap="butt"/>
<path d="M1098.7 329.1L1098.7 341.9M1093.2 332.3L1104.2 338.7M1093.2 338.7L1104.2 332.3" stroke="#000" stroke-width="2.5" stroke-linecap="butt"/>
<path d="M1115.3 329.1L1115.3 341.9M1109.8 332.3L1120.8 338.7M1109.8 338.7L1120.8 332.3" stroke="#000" stroke-width="2.5" stroke-linecap="butt"/>
<path d="M1131.9 329.1L1131.9 341.9M1126.4 332.3L1137.4 338.7M1126.4 338.7L1137.4 332.3" stroke="#000" stroke-width="2.5" stroke-linecap="butt"/>
<text x="11.8" y="644" font-size="29.2" font-weight="bold" textLength="15.2" lengthAdjust="spacingAndGlyphs">c</text>
<circle cx="139.6" cy="642.8" r="4.2" fill="#d4d4d4"/>
<circle cx="139.6" cy="678.8" r="4.2" fill="#808080"/>
<circle cx="139.6" cy="714.3" r="4.2" fill="#bfb57a"/>
<circle cx="139.6" cy="750.1" r="4.2" fill="#93621f"/>
<text x="168" y="650" font-size="19.1" textLength="66.3" lengthAdjust="spacingAndGlyphs" fill="#000">siCTRL</text>
<text x="167.8" y="686.2" font-size="19.1" textLength="113.1" lengthAdjust="spacingAndGlyphs" fill="#000"><tspan font-style="italic">c16orf72&#916;.2</tspan></text>
<text x="167.9" y="720.9" font-size="19.1" textLength="67.5" lengthAdjust="spacingAndGlyphs" fill="#000">siSETX</text>
<text x="167.8" y="757.5" font-size="19.1" textLength="192.2" lengthAdjust="spacingAndGlyphs" fill="#000"><tspan font-style="italic">c16orf72&#916;.2</tspan>+siSETX</text>
<line x1="198.5" y1="1087.5" x2="198.5" y2="825.9" stroke="#000" stroke-width="2.9" stroke-linecap="butt"/>
<line x1="187.3" y1="1087.5" x2="198.5" y2="1087.5" stroke="#000" stroke-width="2.9" stroke-linecap="butt"/>
<text x="174.6" y="1094.6" font-size="20.4" font-weight="bold" textLength="10.6" lengthAdjust="spacingAndGlyphs">0</text>
<line x1="187.3" y1="1035.5" x2="198.5" y2="1035.5" stroke="#000" stroke-width="2.9" stroke-linecap="butt"/>
<text x="153.5" y="1042.5" font-size="20.4" font-weight="bold" textLength="31.7" lengthAdjust="spacingAndGlyphs">100</text>
<line x1="187.3" y1="983.5" x2="198.5" y2="983.5" stroke="#000" stroke-width="2.9" stroke-linecap="butt"/>
<text x="153.5" y="990.5" font-size="20.4" font-weight="bold" textLength="31.7" lengthAdjust="spacingAndGlyphs">200</text>
<line x1="187.3" y1="931.5" x2="198.5" y2="931.5" stroke="#000" stroke-width="2.9" stroke-linecap="butt"/>
<text x="153.5" y="938.4" font-size="20.4" font-weight="bold" textLength="31.7" lengthAdjust="spacingAndGlyphs">300</text>
<line x1="187.3" y1="879.4" x2="198.5" y2="879.4" stroke="#000" stroke-width="2.9" stroke-linecap="butt"/>
<text x="153.5" y="886.4" font-size="20.4" font-weight="bold" textLength="31.7" lengthAdjust="spacingAndGlyphs">400</text>
<line x1="187.3" y1="827.4" x2="198.5" y2="827.4" stroke="#000" stroke-width="2.9" stroke-linecap="butt"/>
<text x="153.5" y="834.4" font-size="20.4" font-weight="bold" textLength="31.7" lengthAdjust="spacingAndGlyphs">500</text>
<line x1="187.3" y1="1087.5" x2="574.4" y2="1087.5" stroke="#000" stroke-width="2.9" stroke-linecap="butt"/>
<line x1="228.5" y1="1087.5" x2="228.5" y2="1098.7" stroke="#000" stroke-width="2.8" stroke-linecap="butt"/>
<line x1="273.4" y1="1087.5" x2="273.4" y2="1098.7" stroke="#000" stroke-width="2.8" stroke-linecap="butt"/>
<line x1="318.3" y1="1087.5" x2="318.3" y2="1098.7" stroke="#000" stroke-width="2.8" stroke-linecap="butt"/>
<line x1="363.3" y1="1087.5" x2="363.3" y2="1098.7" stroke="#000" stroke-width="2.8" stroke-linecap="butt"/>
<line x1="408.2" y1="1087.5" x2="408.2" y2="1098.7" stroke="#000" stroke-width="2.8" stroke-linecap="butt"/>
<line x1="453.1" y1="1087.5" x2="453.1" y2="1098.7" stroke="#000" stroke-width="2.8" stroke-linecap="butt"/>
<line x1="498" y1="1087.5" x2="498" y2="1098.7" stroke="#000" stroke-width="2.8" stroke-linecap="butt"/>
<line x1="542.9" y1="1087.5" x2="542.9" y2="1098.7" stroke="#000" stroke-width="2.8" stroke-linecap="butt"/>
<line x1="219" y1="1120.2" x2="370.2" y2="1120.2" stroke="#000" stroke-width="2.9" stroke-linecap="butt"/>
<line x1="400.1" y1="1120.2" x2="551.5" y2="1120.2" stroke="#000" stroke-width="2.9" stroke-linecap="butt"/>
<text x="284.6" y="1152.2" font-size="22" textLength="24.7" lengthAdjust="spacingAndGlyphs" fill="#000">UT</text>
<text x="463.7" y="1152.2" font-size="22" textLength="26.8" lengthAdjust="spacingAndGlyphs" fill="#000">HU</text>
<text transform="translate(140.2 1142.8) rotate(-90)" x="-1.1" y="0" font-size="25" textLength="375.4" lengthAdjust="spacingAndGlyphs">S9.6 Nuclear Mean Intensity (A.U.)</text>
<path d="M227.8 987.7h0M228.9 935.1h0M223.8 954.3h0M223.2 960.7h0M225.1 975.4h0M233.6 968.3h0M225.2 963.8h0M219 962.2h0M228.8 942.1h0M230.9 947.6h0M226.7 968.5h0M233.6 961.8h0M230.2 978.7h0M225.5 948.5h0M235.3 965.3h0M226.8 956.9h0M222.1 950.3h0M229.1 972.1h0M237.8 960.9h0M226.8 982h0M228.8 953.8h0M234.7 951.8h0M233 973.1h0M231.5 957.2h0M228.8 960.2h0M220.3 967.8h0M234.9 956.2h0M225.1 972.1h0M230.4 963.7h0M219.6 957.2h0M230.1 968h0M231.2 951.3h0M221.7 964.1h0M223.6 966.9h0M234.1 948.5h0M238.6 964.6h0M222.1 970.6h0M226.1 951.7h0M220.5 953.9h0" stroke="#d4d4d4" stroke-width="8" stroke-linecap="round" fill="none"/>
<path d="M274.3 978.3h0M272.7 913.8h0M273.9 966.4h0M267.5 956h0M274.2 932.6h0M268.5 940.3h0M282.4 958.1h0M275.8 936.3h0M281.5 944h0M271.6 945.6h0M275 958.5h0M274 950.3h0M271.3 955.3h0M265.3 945.3h0M273.5 920.5h0M270.2 937.3h0M279.9 960.9h0M278.7 946.7h0M270.9 962.2h0M273.2 939.3h0M272.4 971.9h0M278.7 951.7h0M263.5 948.7h0M267.2 949h0M278.5 956.6h0M270 952h0M274.4 943.4h0M265.3 941.5h0M263.5 952.2h0M273.4 925.6h0M265.4 959.1h0M268.9 959.1h0M282.7 953.3h0M277.3 940.9h0M263.3 956h0M283.8 950.2h0M274.8 953.6h0M276.3 962.9h0M283.2 946.8h0M279.6 938.6h0M275.5 947.2h0M268.5 944.2h0M271.3 942.1h0M273.4 983.7h0" stroke="#808080" stroke-width="8" stroke-linecap="round" fill="none"/>
<path d="M319.2 980.9h0M319.2 899.7h0M318.4 908.5h0M310.7 946.5h0M315.4 965.3h0M318.4 923.3h0M324.8 927.5h0M315.5 951.4h0M315.7 934.5h0M319.7 973.9h0M320.5 933h0M317.8 914.7h0M319.4 956.1h0M323.4 959.9h0M315.9 976.3h0M318.9 938h0M325.1 953.1h0M325.2 947.4h0M315.1 929h0M319.5 947.6h0M322.1 942.7h0M315.6 971.9h0M323.5 934.9h0M313.8 959.8h0M321.3 970h0M328.8 955.6h0M313 939.1h0M317.7 959.3h0M315.8 948.1h0M320.3 929.3h0M322.3 924.6h0M310 955.3h0M311.9 927.5h0M320.3 962.6h0M322.4 966.5h0M326.5 943.7h0M326 930.8h0M322.8 950.4h0M313.5 943.8h0M310 942.8h0M312.1 935.3h0M316.1 940.6h0M318.1 967.8h0M309.2 949.9h0M317.9 944h0M311.2 931.8h0M314.8 955.9h0M327.4 950.6h0M309.4 959.7h0M325.8 940.4h0M314.2 924.2h0M323.2 955.9h0M322.3 938.7h0M318.1 926.7h0M324.8 963h0M319 952.1h0M328.6 946.7h0M312.1 952.7h0M311.6 962.9h0M327.2 958.5h0M317.4 931.6h0M312.7 949.3h0M314.2 968.7h0" stroke="#bfb57a" stroke-width="8" stroke-linecap="round" fill="none"/>
<path d="M363.7 968.4h0M363.9 899.2h0M357.9 955h0M364.1 916h0M373.3 937.9h0M362.9 910h0M360.7 947.3h0M354.7 946.5h0M371 950h0M363.1 957.7h0M365.2 931.6h0M366 950.3h0M361.2 941.3h0M358.2 936h0M368.5 946.8h0M364 920.5h0M366.9 956.2h0M361.4 937h0M361.9 925.5h0M365.3 964.1h0M361.4 929.4h0M370.1 943.2h0M366.2 944.2h0M361.1 950.8h0M354.9 934h0M353.8 938.9h0M355.1 942.3h0M355.3 952.3h0M365.7 926.8h0M373.9 942.8h0M360.4 961h0M368.9 937.8h0M372.1 934.1h0M362.3 933.6h0M370 954.5h0M368.9 932.8h0M365.5 939.7h0M368.1 929.5h0M372.9 946.3h0M363 904.4h0M357.3 931.2h0M362.9 953.8h0M366.2 934.8h0M358.6 943.7h0M357.4 949.4h0M357.4 939.5h0M362.6 944.4h0M358.5 927.5h0M364.1 947.6h0" stroke="#93621f" stroke-width="8" stroke-linecap="round" fill="none"/>
<path d="M407.9 963.7h0M409 924.2h0M411.6 930.4h0M415 938.6h0M406.7 953.6h0M411.2 940.4h0M401.3 947.3h0M409.4 945.5h0M415 943.4h0M401.4 939.3h0M410.9 958.6h0M416.1 955h0M409.7 948.9h0M407.4 939.3h0M404.7 957.6h0M405.2 928.4h0M398.4 950.2h0M403.2 933h0M404.7 961.7h0M418.2 951.3h0M407.2 934.6h0M401.4 953.4h0M406.9 942.9h0M415.5 958.5h0M414.1 933.7h0M403.2 950.3h0M414.8 949.7h0M412.1 954.7h0M401.8 943.4h0M406.6 947.7h0M411.5 935.8h0M412.9 946.9h0M404.6 936.9h0M400.5 957.2h0M418.1 947.4h0M407.9 930.6h0M411.8 962h0M398.7 945h0M407.7 959.5h0M404.4 940.6h0M408.2 910.3h0" stroke="#d4d4d4" stroke-width="8" stroke-linecap="round" fill="none"/>
<path d="M453.6 968.9h0M452.5 893h0M454.3 910.9h0M461.5 930.7h0M453.8 952h0M449.2 946.6h0M460.1 926.3h0M448.3 936.8h0M455.1 902h0M453.4 939.7h0M452.4 914.7h0M445.8 924.7h0M450.2 950.7h0M458.8 932.7h0M460.2 936.8h0M454.2 945.7h0M451.8 898.4h0M453.1 935.8h0M455.6 917.2h0M457.3 929.1h0M448.9 933h0M454.7 923.1h0M451.8 961.4h0M455.9 949.1h0M452.7 919.5h0M457.6 946.1h0M449.2 919h0M456.4 942h0M453.3 956.8h0M451.4 924h0M446.8 929.8h0M450 927.5h0M459.7 941.5h0M446.8 940h0M451.7 942.9h0M444.2 927.8h0M453.8 928h0M453 906.4h0M456.4 936h0M458.4 920h0M450 910h0M447.2 943.9h0M454.9 931.7h0M444.4 933.3h0M446.5 921h0M460 922.9h0M456.7 925.8h0M451.3 930.7h0M453.1 868h0" stroke="#808080" stroke-width="8" stroke-linecap="round" fill="none"/>
<path d="M498.3 962.3h0M498.4 852.9h0M497 857.6h0M497.6 872.1h0M499.3 908.6h0M499.1 899.6h0M498.4 892h0M496.2 951.5h0M494.1 943.7h0M497.8 916.8h0M497.5 876.8h0M497.8 943.7h0M496.6 924.7h0M498.1 929.5h0M499.1 938.6h0M499.5 866h0M502.3 947.3h0M491.2 939.5h0M499.5 955.4h0M494 931.5h0M499 883.3h0M504.1 933h0M506.9 941.2h0M499.6 934.6h0M494.8 939.8h0M497.9 947.9h0M504.6 937.8h0M507.2 935.3h0M489 935.1h0M502.5 951.3h0M501.2 927.1h0M502.6 942.1h0M489.7 943.4h0M500.1 921.4h0M494.5 947.5h0M494.6 936h0M501.7 930.6h0M487.8 939h0M505 944.3h0M497.4 904.2h0M496.6 887.3h0M492.9 950.4h0M491 946.5h0M496.4 912.3h0M498 837.6h0" stroke="#bfb57a" stroke-width="8" stroke-linecap="round" fill="none"/>
<path d="M542.2 968.9h0M542.2 883.1h0M538 917.6h0M536.9 929.1h0M534.9 935.3h0M540.8 952.8h0M546.2 925.4h0M545.6 945.7h0M543.9 957.6h0M543.2 914.6h0M542.2 890.8h0M540.1 933.1h0M542.5 899.7h0M542 924.2h0M548.4 921.5h0M538.8 911.1h0M550.3 941.5h0M547.2 934.5h0M539.9 940.6h0M543.3 919.5h0M540.7 927.4h0M545.8 951.1h0M542.2 963.5h0M552.1 926.3h0M537.5 945.2h0M544 932.2h0M545.8 942.2h0M548.7 947.6h0M537.8 925.8h0M552.8 935.2h0M541.6 904.6h0M553.4 929.7h0M545.3 911.2h0M538.9 922.4h0M538.5 936.8h0M538.9 950h0M548.5 929.5h0M535.3 920.7h0M545.4 938.8h0M533.6 930.8h0M533.5 927h0M542.4 947.8h0M535.1 942.5h0M542.1 944h0M548.2 917.8h0M547.2 914.5h0M534.1 938.7h0M545.2 922.3h0M539.4 914.5h0M552.9 939.1h0M548.9 937.8h0M545.4 906.5h0M543.1 935.6h0M544.2 928.3h0M550.2 932.5h0M533.9 923.7h0M542.2 909h0M550.7 944.8h0M551.6 922.7h0M542.9 864.9h0M542.9 860.7h0M542.9 853h0M542.9 837h0" stroke="#93621f" stroke-width="8" stroke-linecap="round" fill="none"/>
<line x1="498" y1="913.3" x2="498" y2="921.3" stroke="#a00000" stroke-width="2.5" stroke-linecap="butt"/>
<line x1="490.5" y1="913.3" x2="505.5" y2="913.3" stroke="#a00000" stroke-width="2.5" stroke-linecap="butt"/>
<line x1="490.5" y1="921.3" x2="505.5" y2="921.3" stroke="#a00000" stroke-width="2.5" stroke-linecap="butt"/>
<rect x="535.2" y="922.3" width="15.4" height="8" fill="#a00000"/>
<line x1="213.5" y1="963.7" x2="243.5" y2="963.7" stroke="#ee1c14" stroke-width="3" stroke-linecap="butt"/>
<line x1="258.4" y1="950.3" x2="288.4" y2="950.3" stroke="#ee1c14" stroke-width="3" stroke-linecap="butt"/>
<line x1="303.3" y1="946.3" x2="333.3" y2="946.3" stroke="#ee1c14" stroke-width="3" stroke-linecap="butt"/>
<line x1="348.3" y1="939" x2="378.3" y2="939" stroke="#ee1c14" stroke-width="3" stroke-linecap="butt"/>
<line x1="393.2" y1="945" x2="423.2" y2="945" stroke="#ee1c14" stroke-width="3" stroke-linecap="butt"/>
<line x1="438.1" y1="929.7" x2="468.1" y2="929.7" stroke="#ee1c14" stroke-width="3" stroke-linecap="butt"/>
<line x1="483" y1="917.3" x2="513" y2="917.3" stroke="#ee1c14" stroke-width="3" stroke-linecap="butt"/>
<line x1="527.9" y1="926.3" x2="557.9" y2="926.3" stroke="#ee1c14" stroke-width="3" stroke-linecap="butt"/>
<line x1="219.6" y1="879.8" x2="413" y2="879.8" stroke="#000" stroke-width="2.9" stroke-linecap="butt"/>
<line x1="219.6" y1="869.3" x2="219.6" y2="891.3" stroke="#000" stroke-width="2.9" stroke-linecap="butt"/>
<line x1="413" y1="869.3" x2="413" y2="891.3" stroke="#000" stroke-width="2.9" stroke-linecap="butt"/>
<path d="M294.8 858.5L294.8 870.5M289.6 861.5L299.9 867.5M289.6 867.5L299.9 861.5" stroke="#000" stroke-width="2.4" stroke-linecap="butt"/>
<path d="M310.2 858.5L310.2 870.5M305.1 861.5L315.4 867.5M305.1 867.5L315.4 861.5" stroke="#000" stroke-width="2.4" stroke-linecap="butt"/>
<path d="M325.8 858.5L325.8 870.5M320.6 861.5L330.9 867.5M320.6 867.5L330.9 861.5" stroke="#000" stroke-width="2.4" stroke-linecap="butt"/>
<path d="M341.2 858.5L341.2 870.5M336.1 861.5L346.4 867.5M336.1 867.5L346.4 861.5" stroke="#000" stroke-width="2.4" stroke-linecap="butt"/>
<line x1="404.4" y1="847.8" x2="455.1" y2="847.8" stroke="#000" stroke-width="2.9" stroke-linecap="butt"/>
<line x1="404.4" y1="836.8" x2="404.4" y2="858.8" stroke="#000" stroke-width="2.9" stroke-linecap="butt"/>
<line x1="455.1" y1="836.8" x2="455.1" y2="858.8" stroke="#000" stroke-width="2.9" stroke-linecap="butt"/>
<path d="M410.1 825.5L410.1 837.5M404.9 828.5L415.2 834.5M404.9 834.5L415.2 828.5" stroke="#000" stroke-width="2.4" stroke-linecap="butt"/>
<path d="M425.6 825.5L425.6 837.5M420.4 828.5L430.7 834.5M420.4 834.5L430.7 828.5" stroke="#000" stroke-width="2.4" stroke-linecap="butt"/>
<path d="M441.1 825.5L441.1 837.5M435.9 828.5L446.2 834.5M435.9 834.5L446.2 828.5" stroke="#000" stroke-width="2.4" stroke-linecap="butt"/>
<path d="M456.6 825.5L456.6 837.5M451.4 828.5L461.7 834.5M451.4 834.5L461.7 828.5" stroke="#000" stroke-width="2.4" stroke-linecap="butt"/>
<line x1="405.3" y1="802" x2="499.6" y2="802" stroke="#000" stroke-width="2.9" stroke-linecap="butt"/>
<line x1="405.3" y1="791" x2="405.3" y2="812.5" stroke="#000" stroke-width="2.9" stroke-linecap="butt"/>
<line x1="499.6" y1="791" x2="499.6" y2="812.5" stroke="#000" stroke-width="2.9" stroke-linecap="butt"/>
<path d="M431.4 779L431.4 791M426.3 782L436.6 788M426.3 788L436.6 782" stroke="#000" stroke-width="2.4" stroke-linecap="butt"/>
<path d="M446.9 779L446.9 791M441.8 782L452.1 788M441.8 788L452.1 782" stroke="#000" stroke-width="2.4" stroke-linecap="butt"/>
<path d="M462.4 779L462.4 791M457.3 782L467.6 788M457.3 788L467.6 782" stroke="#000" stroke-width="2.4" stroke-linecap="butt"/>
<path d="M477.9 779L477.9 791M472.8 782L483.1 788M472.8 788L483.1 782" stroke="#000" stroke-width="2.4" stroke-linecap="butt"/>
<line x1="403.6" y1="771.3" x2="544.9" y2="771.3" stroke="#000" stroke-width="2.9" stroke-linecap="butt"/>
<line x1="403.6" y1="759.8" x2="403.6" y2="783.3" stroke="#000" stroke-width="2.9" stroke-linecap="butt"/>
<line x1="544.9" y1="759.8" x2="544.9" y2="783.3" stroke="#000" stroke-width="2.9" stroke-linecap="butt"/>
<path d="M453.1 749L453.1 761M447.9 752L458.2 758M447.9 758L458.2 752" stroke="#000" stroke-width="2.4" stroke-linecap="butt"/>
<path d="M468.6 749L468.6 761M463.4 752L473.7 758M463.4 758L473.7 752" stroke="#000" stroke-width="2.4" stroke-linecap="butt"/>
<path d="M484.1 749L484.1 761M478.9 752L489.2 758M478.9 758L489.2 752" stroke="#000" stroke-width="2.4" stroke-linecap="butt"/>
<path d="M499.6 749L499.6 761M494.4 752L504.7 758M494.4 758L504.7 752" stroke="#000" stroke-width="2.4" stroke-linecap="butt"/>
<line x1="452.5" y1="734.3" x2="551.6" y2="734.3" stroke="#000" stroke-width="2.9" stroke-linecap="butt"/>
<line x1="452.5" y1="722.6" x2="452.5" y2="746.3" stroke="#000" stroke-width="2.9" stroke-linecap="butt"/>
<line x1="551.6" y1="722.6" x2="551.6" y2="746.3" stroke="#000" stroke-width="2.9" stroke-linecap="butt"/>
<text x="490.9" y="721.5" font-size="21.6" textLength="21.6" lengthAdjust="spacingAndGlyphs" fill="#000">ns</text>
<path d="M498.7 1006.9L498.7 1018.9L546.7 1018.9L546.7 1006.9" fill="none" stroke="#000" stroke-width="2.9" stroke-linejoin="miter"/>
<text x="511.4" y="1005.8" font-size="21.6" textLength="21.6" lengthAdjust="spacingAndGlyphs" fill="#000">ns</text>
<text x="650" y="651.6" font-size="34" font-weight="bold" textLength="20.2" lengthAdjust="spacingAndGlyphs">d</text>
<circle cx="771.3" cy="643.3" r="4.2" fill="#d4d4d4"/>
<circle cx="771.3" cy="679.8" r="4.2" fill="#808080"/>
<circle cx="771.3" cy="715.8" r="4.2" fill="#bfb57a"/>
<circle cx="771.3" cy="752.2" r="4.2" fill="#93621f"/>
<text x="800.2" y="650.6" font-size="18.8" textLength="66.7" lengthAdjust="spacingAndGlyphs" fill="#000">siCTRL</text>
<text x="800.1" y="687" font-size="18.8" textLength="114.3" lengthAdjust="spacingAndGlyphs" fill="#000"><tspan font-style="italic">c16orf72&#916;.2</tspan></text>
<text x="800.2" y="722.3" font-size="18.8" textLength="82.1" lengthAdjust="spacingAndGlyphs" fill="#000">siBRCA1</text>
<text x="800.1" y="757.9" font-size="18.8" textLength="208" lengthAdjust="spacingAndGlyphs" fill="#000"><tspan font-style="italic">c16orf72&#916;.2</tspan>+siBRCA1</text>
<line x1="823.5" y1="1089.8" x2="823.5" y2="827.1" stroke="#000" stroke-width="2.9" stroke-linecap="butt"/>
<line x1="812.3" y1="1089.8" x2="823.5" y2="1089.8" stroke="#000" stroke-width="2.9" stroke-linecap="butt"/>
<text x="799.6" y="1097.3" font-size="20.2" font-weight="bold" textLength="10.6" lengthAdjust="spacingAndGlyphs">0</text>
<line x1="812.3" y1="1037.6" x2="823.5" y2="1037.6" stroke="#000" stroke-width="2.9" stroke-linecap="butt"/>
<text x="778.3" y="1045.1" font-size="20.2" font-weight="bold" textLength="31.9" lengthAdjust="spacingAndGlyphs">100</text>
<line x1="812.3" y1="985.3" x2="823.5" y2="985.3" stroke="#000" stroke-width="2.9" stroke-linecap="butt"/>
<text x="778.3" y="992.9" font-size="20.2" font-weight="bold" textLength="31.9" lengthAdjust="spacingAndGlyphs">200</text>
<line x1="812.3" y1="933.1" x2="823.5" y2="933.1" stroke="#000" stroke-width="2.9" stroke-linecap="butt"/>
<text x="778.3" y="940.6" font-size="20.2" font-weight="bold" textLength="31.9" lengthAdjust="spacingAndGlyphs">300</text>
<line x1="812.3" y1="880.8" x2="823.5" y2="880.8" stroke="#000" stroke-width="2.9" stroke-linecap="butt"/>
<text x="778.3" y="888.4" font-size="20.2" font-weight="bold" textLength="31.9" lengthAdjust="spacingAndGlyphs">400</text>
<line x1="812.3" y1="828.6" x2="823.5" y2="828.6" stroke="#000" stroke-width="2.9" stroke-linecap="butt"/>
<text x="778.3" y="836.1" font-size="20.2" font-weight="bold" textLength="31.9" lengthAdjust="spacingAndGlyphs">500</text>
<line x1="812.4" y1="1089.8" x2="1203.9" y2="1089.8" stroke="#000" stroke-width="2.9" stroke-linecap="butt"/>
<line x1="853.5" y1="1089.8" x2="853.5" y2="1100.9" stroke="#000" stroke-width="2.8" stroke-linecap="butt"/>
<line x1="899" y1="1089.8" x2="899" y2="1100.9" stroke="#000" stroke-width="2.8" stroke-linecap="butt"/>
<line x1="944.6" y1="1089.8" x2="944.6" y2="1100.9" stroke="#000" stroke-width="2.8" stroke-linecap="butt"/>
<line x1="990.1" y1="1089.8" x2="990.1" y2="1100.9" stroke="#000" stroke-width="2.8" stroke-linecap="butt"/>
<line x1="1035.7" y1="1089.8" x2="1035.7" y2="1100.9" stroke="#000" stroke-width="2.8" stroke-linecap="butt"/>
<line x1="1081.2" y1="1089.8" x2="1081.2" y2="1100.9" stroke="#000" stroke-width="2.8" stroke-linecap="butt"/>
<line x1="1126.7" y1="1089.8" x2="1126.7" y2="1100.9" stroke="#000" stroke-width="2.8" stroke-linecap="butt"/>
<line x1="1172.3" y1="1089.8" x2="1172.3" y2="1100.9" stroke="#000" stroke-width="2.8" stroke-linecap="butt"/>
<line x1="846" y1="1121.7" x2="998.9" y2="1121.7" stroke="#000" stroke-width="2.9" stroke-linecap="butt"/>
<line x1="1028.6" y1="1121.7" x2="1181.7" y2="1121.7" stroke="#000" stroke-width="2.9" stroke-linecap="butt"/>
<text x="911.3" y="1154.3" font-size="22.3" textLength="26" lengthAdjust="spacingAndGlyphs" fill="#000">UT</text>
<text x="1092.2" y="1154.3" font-size="22.3" textLength="27.9" lengthAdjust="spacingAndGlyphs" fill="#000">HU</text>
<text transform="translate(764.6 1145.7) rotate(-90)" x="-1.1" y="0" font-size="25.6" textLength="378.3" lengthAdjust="spacingAndGlyphs">S9.6 Nuclear Mean Intensity (A.U.)</text>
<path d="M852.5 989.7h0M852.7 936.2h0M847.2 968.7h0M854.8 983.7h0M854.2 954.3h0M863.5 965.8h0M854.2 978.5h0M860.5 960.4h0M858.7 970.7h0M855.3 950.7h0M851 947.5h0M856.9 956.3h0M845.5 957.5h0M854.7 965.9h0M859.7 964.3h0M854.8 974.8h0M854 943.4h0M859.3 952.5h0M848 952.8h0M848.1 974.9h0M849.4 961.9h0M844 966.1h0M850.4 966.2h0M848.8 958h0M855.5 960.6h0M851 981.1h0M861.3 956.3h0M859 974.9h0M845.5 962.8h0M861.6 969h0M852.3 972.4h0M857.1 947.2h0M853.6 969.1h0M853.6 957.7h0M844.5 954h0M843.3 960.3h0M851.3 951.2h0M856.2 987.7h0M863.9 962.1h0M857.7 967.5h0M850.5 955.2h0M850.3 977.5h0M863.5 958.7h0M852.7 962.9h0M848.8 971.6h0M848.2 949.4h0" stroke="#d4d4d4" stroke-width="8" stroke-linecap="round" fill="none"/>
<path d="M898.2 980.1h0M898.5 913.2h0M899 959.8h0M899.1 931.9h0M904.7 955.3h0M901.4 971.6h0M894.8 972.6h0M904.7 969.2h0M896.7 940.8h0M908.8 963.8h0M898.5 951.6h0M900.2 925.8h0M891.2 967.2h0M903.2 965h0M904.9 946h0M896.1 936.9h0M904.7 941h0M888.7 954.9h0M895 954.9h0M898.1 964.7h0M899.7 919.6h0M891.3 963.1h0M899.3 955.7h0M895.5 929.8h0M895.1 945.3h0M906 958.6h0M891.4 948.4h0M894.7 963h0M909 951.9h0M907.1 948.5h0M901.1 938h0M895.9 933.4h0M900.6 944.2h0M903.1 933.9h0M895.9 958.2h0M892 952.4h0M888.6 959.9h0M901.4 948.2h0M896.6 969.3h0M898.5 974.9h0M892.9 940.7h0M902.4 952.5h0M909.9 957.8h0M901.9 958h0M905.7 962.4h0M904.9 937h0M901.7 929.3h0M900 968.2h0M892.1 958.2h0M888.6 950.4h0M890.6 944.9h0M897.1 948.3h0M906.4 966.3h0M894.8 950.6h0M901.7 962h0M894.8 966.4h0M905.6 951.6h0M899 935.3h0M899 985.7h0" stroke="#808080" stroke-width="8" stroke-linecap="round" fill="none"/>
<path d="M944.7 960.2h0M944.8 891.3h0M945.7 903.9h0M945.9 947.4h0M951.6 923.8h0M942.5 916.4h0M946.5 926h0M947.8 909.5h0M940.1 913.3h0M942.9 951.8h0M945.1 941.4h0M937.8 939.3h0M941.1 908.7h0M949.9 927.1h0M952.9 929.7h0M944.5 911.8h0M953.2 942.3h0M942.6 927h0M941.4 904.9h0M945.9 917.4h0M950.3 946.5h0M942.5 944.5h0M944.5 937.3h0M935.8 929.2h0M939.3 946.2h0M946.6 922.7h0M934.1 939.1h0M940 929.3h0M954.7 936.4h0M941.3 923h0M943.2 895.9h0M936.3 943.5h0M950.1 935.5h0M949.2 931.9h0M941.7 933.2h0M943.9 900.1h0M937.8 934.7h0M949.6 920.2h0M948.8 915.2h0M937.6 924h0M946.2 955.8h0M941 937.2h0M948.8 942.3h0M944.7 908h0M945.3 933.8h0M939.2 918.2h0M952 938.4h0M934.2 932.9h0M947.7 938.2h0M940.9 940.8h0M947.3 951.4h0M954.8 932.4h0M943.7 920.1h0M942.2 948.1h0M944 930.7h0M948.7 906h0M947.1 929.3h0M944.6 883h0" stroke="#bfb57a" stroke-width="8" stroke-linecap="round" fill="none"/>
<path d="M990.2 988.3h0M990.3 865.7h0M990.3 950.8h0M990.8 969.3h0M989.7 977.7h0M985 952.5h0M992.3 936.3h0M989.7 888.8h0M990.4 882.2h0M989.3 931.7h0M984.4 959.6h0M995.5 938.5h0M997.5 950.4h0M995.6 947.1h0M999.5 943.7h0M990.2 912.9h0M997.4 957.4h0M993.3 955.7h0M988.4 940.2h0M990.7 906h0M985.9 946.5h0M986.6 967.3h0M990.6 896.3h0M988.4 959.6h0M994.1 959.8h0M991 919.5h0M981.4 944.9h0M992.8 944.6h0M984.8 942.1h0M992.1 962.8h0M987.9 954.5h0M993.5 951.9h0M989.3 924.9h0M992.1 940.3h0M981.2 941.5h0M990.5 872.7h0M982.9 955.9h0M987.5 963.4h0M985.7 938.1h0M995.7 942.1h0M989.9 983.2h0M999.5 947.4h0M982.9 949.9h0M997.4 954h0M989.5 943.5h0M993.4 966.7h0M989.8 947.1h0M995.4 963.5h0M987 949.7h0M998.7 940.5h0" stroke="#93621f" stroke-width="8" stroke-linecap="round" fill="none"/>
<path d="M1035.8 966.2h0M1036.2 927.9h0M1031.1 937.5h0M1044.8 937.5h0M1038.5 955.7h0M1032.8 943.8h0M1038.6 951.8h0M1031.2 960.2h0M1031 933.8h0M1045.8 945.3h0M1033.3 947.2h0M1036.4 934.4h0M1039 962.4h0M1041.8 943.8h0M1034.2 955h0M1028.6 942.5h0M1034.3 962.9h0M1041.6 948.6h0M1042 935.2h0M1029.2 948.4h0M1037.6 942.8h0M1027.4 937.6h0M1030.9 955.4h0M1027.9 952.1h0M1036.7 938.3h0M1043.6 951.6h0M1040.9 938.7h0M1038.4 959.1h0M1038.5 931h0M1025 944.2h0M1031.5 951.7h0M1034.8 959.5h0M1035.3 950.9h0M1038.6 947h0M1044 940.9h0M1033.9 940.4h0M1025.8 948.6h0M1025.5 940.6h0M1031.7 965.6h0M1042 954.5h0M1034 931.2h0M1039.7 966.1h0M1045.2 948.5h0M1035.7 913.1h0" stroke="#d4d4d4" stroke-width="8" stroke-linecap="round" fill="none"/>
<path d="M1080.9 970.3h0M1082.2 894.9h0M1082 937.7h0M1090.1 926.9h0M1076.1 938.8h0M1091.3 933h0M1082.4 952.5h0M1080.1 964h0M1079.6 957.7h0M1077.9 929.2h0M1082.1 915.4h0M1076.3 943.5h0M1076.6 949.5h0M1085.3 947.7h0M1081.7 901.9h0M1082 947.4h0M1079.7 932.9h0M1080.1 923.5h0M1085 924.4h0M1082.1 920h0M1086 931.4h0M1079.7 941.8h0M1074.7 931.7h0M1083.6 942.4h0M1086.6 935.1h0M1082.6 910.9h0M1074 935h0M1086.4 921.3h0M1078.4 917.3h0M1089 939.7h0M1082.9 934.6h0M1072.4 928.8h0M1087.5 943h0M1081.6 929.3h0M1076.3 922.6h0M1071.1 932.1h0M1075.6 926.3h0M1078.2 953.8h0M1084.8 927.9h0M1083.9 956.3h0M1085.5 938.6h0M1079.7 906.4h0M1077.5 935.5h0M1072.6 938.6h0M1083.4 960.9h0M1078.7 912.8h0M1089.1 930.3h0M1078 946.4h0M1090.3 936.2h0M1081.2 869.5h0" stroke="#808080" stroke-width="8" stroke-linecap="round" fill="none"/>
<path d="M1127.1 954.5h0M1125.9 851.1h0M1127.8 899.9h0M1126.4 892.4h0M1126.3 867.8h0M1131.4 924.6h0M1124.1 951h0M1128.1 911.4h0M1126.8 860.3h0M1126.3 925.2h0M1116.5 932.5h0M1124.1 945.4h0M1126.8 947.9h0M1126.1 929.1h0M1123.8 913h0M1127.2 884.8h0M1121.4 923.5h0M1126.4 904.2h0M1119.1 945.6h0M1131.6 939.7h0M1136.2 921.5h0M1130.5 917.3h0M1132.3 920.3h0M1133.5 946.8h0M1130.7 931h0M1125.7 938.7h0M1119 927.9h0M1126.8 873.8h0M1121.5 940.1h0M1136.9 931.2h0M1134.5 942.8h0M1130.1 950.4h0M1123.4 933.7h0M1133.3 928.4h0M1135.7 936.6h0M1118.5 938.3h0M1122.2 916h0M1130.6 907.5h0M1128 921.4h0M1127 916h0M1134.4 917.7h0M1129.5 944.1h0M1126.4 879.7h0M1119.1 919.9h0M1124.1 907.2h0M1126.8 935.5h0M1124.1 920.2h0M1137.8 926h0M1131.2 935.7h0M1126.3 942.6h0M1136.5 940.1h0M1116.6 924.1h0M1117.4 941.9h0M1132.2 914.1h0M1121.2 936.3h0M1123.1 926.7h0M1121.1 949.4h0M1121.5 930.3h0M1116.3 935.8h0M1115.8 928.8h0M1129.2 927.2h0M1133.5 933.3h0M1127.5 932.2h0M1126.7 836.6h0" stroke="#bfb57a" stroke-width="8" stroke-linecap="round" fill="none"/>
<path d="M1172.6 961.4h0M1172.1 851.1h0M1172.5 881.5h0M1164.9 920h0M1168.6 923.4h0M1172.7 936.8h0M1166.8 945.9h0M1176.4 920.1h0M1169.8 958.7h0M1171.3 929h0M1167.3 915.2h0M1163.7 934h0M1172.6 868.4h0M1178 898.9h0M1172.5 945.4h0M1174.3 958.4h0M1170.7 887.8h0M1172.6 857.5h0M1174.1 893.6h0M1172.2 876.1h0M1168.7 892.2h0M1174.2 916.9h0M1165.3 925.6h0M1170.5 941.9h0M1174.5 909.2h0M1170.2 905.5h0M1170.6 933.8h0M1170.6 948.5h0M1178.7 907.7h0M1165.2 898.9h0M1176 945.6h0M1163.4 929h0M1165.6 910.9h0M1178.9 930.5h0M1172.7 897.2h0M1175.6 934.7h0M1167 956.4h0M1173.1 924.1h0M1176.8 924.2h0M1169.9 952h0M1162.2 917h0M1161.6 920.9h0M1181.5 928.3h0M1164.9 905.8h0M1177 956.2h0M1175.8 942.3h0M1165.6 937.4h0M1179.5 917h0M1174.9 901h0M1171.8 912.2h0M1173.6 955.1h0M1168.8 919.4h0M1169.6 898.7h0M1180 923h0M1167.5 895.7h0M1176.4 928.3h0M1181.2 909.9h0M1166.2 941.9h0M1165.5 902.2h0M1168.7 926.7h0M1177.8 892.1h0M1176.7 904.5h0M1181.9 919.6h0M1175.8 949.8h0M1181.7 914.3h0M1180.7 933.4h0M1175.3 888.6h0M1171.7 862.8h0M1172.2 920.7h0M1179.2 940.3h0M1168.1 931.3h0M1168.8 938.9h0M1176 938.5h0M1177.1 912.3h0M1178.8 936.5h0M1168.8 909.5h0M1166.8 950.1h0M1162.2 913.7h0M1170.9 915.5h0M1177.3 952.8h0M1171.5 902.1h0M1162.1 924.2h0M1180 903.8h0M1174.2 931.4h0M1172.2 890.8h0M1178.6 895.3h0M1173.7 906h0M1182.8 925.2h0M1170.2 955.3h0M1172.3 833.2h0" stroke="#93621f" stroke-width="8" stroke-linecap="round" fill="none"/>
<rect x="846" y="961.2" width="15" height="5" fill="#b00000"/>
<rect x="937.1" y="926.8" width="15" height="5" fill="#b00000"/>
<rect x="1028.2" y="944.5" width="15" height="5" fill="#b00000"/>
<rect x="1119.2" y="920.2" width="15" height="5" fill="#b00000"/>
<line x1="990.1" y1="938.9" x2="990.1" y2="945.7" stroke="#b00000" stroke-width="1.5" stroke-linecap="butt"/>
<line x1="982.6" y1="938.9" x2="997.6" y2="938.9" stroke="#b00000" stroke-width="1.5" stroke-linecap="butt"/>
<line x1="982.6" y1="945.7" x2="997.6" y2="945.7" stroke="#b00000" stroke-width="1.5" stroke-linecap="butt"/>
<line x1="1172.3" y1="914.8" x2="1172.3" y2="921.6" stroke="#b00000" stroke-width="1.5" stroke-linecap="butt"/>
<line x1="1164.8" y1="914.8" x2="1179.8" y2="914.8" stroke="#b00000" stroke-width="1.5" stroke-linecap="butt"/>
<line x1="1164.8" y1="921.6" x2="1179.8" y2="921.6" stroke="#b00000" stroke-width="1.5" stroke-linecap="butt"/>
<line x1="838.5" y1="963.7" x2="868.5" y2="963.7" stroke="#ee1c14" stroke-width="3" stroke-linecap="butt"/>
<line x1="884" y1="950.3" x2="914" y2="950.3" stroke="#ee1c14" stroke-width="3" stroke-linecap="butt"/>
<line x1="929.6" y1="929.3" x2="959.6" y2="929.3" stroke="#ee1c14" stroke-width="3" stroke-linecap="butt"/>
<line x1="975.1" y1="942.3" x2="1005.1" y2="942.3" stroke="#ee1c14" stroke-width="3" stroke-linecap="butt"/>
<line x1="1020.7" y1="947" x2="1050.7" y2="947" stroke="#ee1c14" stroke-width="3" stroke-linecap="butt"/>
<line x1="1066.2" y1="931.6" x2="1096.2" y2="931.6" stroke="#ee1c14" stroke-width="3" stroke-linecap="butt"/>
<line x1="1111.7" y1="922.7" x2="1141.7" y2="922.7" stroke="#ee1c14" stroke-width="3" stroke-linecap="butt"/>
<line x1="1157.3" y1="918.2" x2="1187.3" y2="918.2" stroke="#ee1c14" stroke-width="3" stroke-linecap="butt"/>
<line x1="846" y1="858.9" x2="1039.8" y2="858.9" stroke="#000" stroke-width="2.9" stroke-linecap="butt"/>
<line x1="846" y1="847.9" x2="846" y2="871.4" stroke="#000" stroke-width="2.9" stroke-linecap="butt"/>
<line x1="1039.8" y1="847.9" x2="1039.8" y2="871.4" stroke="#000" stroke-width="2.9" stroke-linecap="butt"/>
<path d="M920.5 837L920.5 849M915.4 840L925.7 846M915.4 846L925.7 840" stroke="#000" stroke-width="2.4" stroke-linecap="butt"/>
<path d="M936 837L936 849M930.9 840L941.2 846M930.9 846L941.2 840" stroke="#000" stroke-width="2.4" stroke-linecap="butt"/>
<path d="M951.5 837L951.5 849M946.4 840L956.7 846M946.4 846L956.7 840" stroke="#000" stroke-width="2.4" stroke-linecap="butt"/>
<path d="M967 837L967 849M961.9 840L972.2 846M961.9 846L972.2 840" stroke="#000" stroke-width="2.4" stroke-linecap="butt"/>
<line x1="1029.1" y1="830" x2="1079.8" y2="830" stroke="#000" stroke-width="2.9" stroke-linecap="butt"/>
<line x1="1029.1" y1="819" x2="1029.1" y2="841" stroke="#000" stroke-width="2.9" stroke-linecap="butt"/>
<line x1="1079.8" y1="819" x2="1079.8" y2="841" stroke="#000" stroke-width="2.9" stroke-linecap="butt"/>
<path d="M1033 808L1033 820M1027.9 811L1038.2 817M1027.9 817L1038.2 811" stroke="#000" stroke-width="2.4" stroke-linecap="butt"/>
<path d="M1048.5 808L1048.5 820M1043.4 811L1053.7 817M1043.4 817L1053.7 811" stroke="#000" stroke-width="2.4" stroke-linecap="butt"/>
<path d="M1064 808L1064 820M1058.9 811L1069.2 817M1058.9 817L1069.2 811" stroke="#000" stroke-width="2.4" stroke-linecap="butt"/>
<path d="M1079.5 808L1079.5 820M1074.4 811L1084.7 817M1074.4 817L1084.7 811" stroke="#000" stroke-width="2.4" stroke-linecap="butt"/>
<line x1="1032.2" y1="789.1" x2="1130" y2="789.1" stroke="#000" stroke-width="2.9" stroke-linecap="butt"/>
<line x1="1032.2" y1="778.1" x2="1032.2" y2="800.1" stroke="#000" stroke-width="2.9" stroke-linecap="butt"/>
<line x1="1130" y1="778.1" x2="1130" y2="800.1" stroke="#000" stroke-width="2.9" stroke-linecap="butt"/>
<path d="M1059.8 766.6L1059.8 778.6M1054.6 769.6L1064.9 775.6M1054.6 775.6L1064.9 769.6" stroke="#000" stroke-width="2.4" stroke-linecap="butt"/>
<path d="M1075.2 766.6L1075.2 778.6M1070.1 769.6L1080.4 775.6M1070.1 775.6L1080.4 769.6" stroke="#000" stroke-width="2.4" stroke-linecap="butt"/>
<path d="M1090.8 766.6L1090.8 778.6M1085.6 769.6L1095.9 775.6M1085.6 775.6L1095.9 769.6" stroke="#000" stroke-width="2.4" stroke-linecap="butt"/>
<path d="M1106.2 766.6L1106.2 778.6M1101.1 769.6L1111.4 775.6M1101.1 775.6L1111.4 769.6" stroke="#000" stroke-width="2.4" stroke-linecap="butt"/>
<line x1="1030" y1="762" x2="1175.3" y2="762" stroke="#000" stroke-width="2.9" stroke-linecap="butt"/>
<line x1="1030" y1="751" x2="1030" y2="773" stroke="#000" stroke-width="2.9" stroke-linecap="butt"/>
<line x1="1175.3" y1="751" x2="1175.3" y2="773" stroke="#000" stroke-width="2.9" stroke-linecap="butt"/>
<path d="M1081.7 739L1081.7 751M1076.5 742L1086.8 748M1076.5 748L1086.8 742" stroke="#000" stroke-width="2.4" stroke-linecap="butt"/>
<path d="M1097.2 739L1097.2 751M1092 742L1102.3 748M1092 748L1102.3 742" stroke="#000" stroke-width="2.4" stroke-linecap="butt"/>
<path d="M1112.7 739L1112.7 751M1107.5 742L1117.8 748M1107.5 748L1117.8 742" stroke="#000" stroke-width="2.4" stroke-linecap="butt"/>
<path d="M1128.2 739L1128.2 751M1123 742L1133.3 748M1123 748L1133.3 742" stroke="#000" stroke-width="2.4" stroke-linecap="butt"/>
<line x1="1078.9" y1="726.4" x2="1175.3" y2="726.4" stroke="#000" stroke-width="2.9" stroke-linecap="butt"/>
<line x1="1078.9" y1="715.4" x2="1078.9" y2="737.4" stroke="#000" stroke-width="2.9" stroke-linecap="butt"/>
<line x1="1175.3" y1="715.4" x2="1175.3" y2="737.4" stroke="#000" stroke-width="2.9" stroke-linecap="butt"/>
<text x="1116" y="713.6" font-size="21.6" textLength="21.6" lengthAdjust="spacingAndGlyphs" fill="#000">ns</text>
<path d="M1130 987.8L1130 999.8L1175.3 999.8L1175.3 987.8" fill="none" stroke="#000" stroke-width="2.9" stroke-linejoin="miter"/>
<text x="1141.6" y="987" font-size="21.6" textLength="21.6" lengthAdjust="spacingAndGlyphs" fill="#000">ns</text>
<text x="9.6" y="1228.6" font-size="31.6" font-weight="bold" textLength="18.9" lengthAdjust="spacingAndGlyphs">e</text>
<defs><filter id="b2" x="-30%" y="-80%" width="160%" height="260%"><feGaussianBlur stdDeviation="2"/></filter><filter id="b3" x="-30%" y="-80%" width="160%" height="260%"><feGaussianBlur stdDeviation="3"/></filter><filter id="b4" x="-30%" y="-80%" width="160%" height="260%"><feGaussianBlur stdDeviation="4.5"/></filter><filter id="b1" x="-30%" y="-80%" width="160%" height="260%"><feGaussianBlur stdDeviation="1.2"/></filter><filter id="sh" x="-5%" y="-30%" width="110%" height="160%"><feGaussianBlur stdDeviation="1.5"/></filter><clipPath id="c1"><rect x="60" y="1382.4" width="471.5" height="48.4"/></clipPath><clipPath id="c2"><rect x="60" y="1472.4" width="471.5" height="61.5"/></clipPath><clipPath id="c3"><rect x="60" y="1562.4" width="471.5" height="62"/></clipPath></defs>
<rect x="83.3" y="1251.2" width="113.4" height="79.4" fill="none" stroke="#000" stroke-width="1.7"/>
<rect x="219.6" y="1251.2" width="147.1" height="79.4" fill="none" stroke="#000" stroke-width="1.7"/>
<rect x="374" y="1251.2" width="158.2" height="79.4" fill="none" stroke="#000" stroke-width="1.7"/>
<text x="109.7" y="1286.6" font-size="24.9" textLength="59.3" lengthAdjust="spacingAndGlyphs" fill="#000">Input</text>
<text x="123.9" y="1319.4" font-size="24.9" textLength="32.5" lengthAdjust="spacingAndGlyphs" fill="#000">1%</text>
<text x="259.1" y="1286.6" font-size="24.9" textLength="67.3" lengthAdjust="spacingAndGlyphs" fill="#000">Beads</text>
<text x="255.7" y="1319.4" font-size="24.9" textLength="74.5" lengthAdjust="spacingAndGlyphs" fill="#000">only IP</text>
<text x="398" y="1286.6" font-size="24.9" textLength="109.5" lengthAdjust="spacingAndGlyphs" fill="#000">HA-Beads</text>
<text x="441.8" y="1319.4" font-size="24.9" textLength="22.1" lengthAdjust="spacingAndGlyphs" fill="#000">IP</text>
<text x="573.5" y="1361" font-size="24.9" textLength="36.2" lengthAdjust="spacingAndGlyphs" fill="#000">HU</text>
<line x1="107.8" y1="1354.2" x2="119.6" y2="1354.2" stroke="#000" stroke-width="3.4" stroke-linecap="butt"/>
<line x1="259.6" y1="1354.2" x2="270.7" y2="1354.2" stroke="#000" stroke-width="3.4" stroke-linecap="butt"/>
<line x1="410.7" y1="1354.2" x2="421.1" y2="1354.2" stroke="#000" stroke-width="3.4" stroke-linecap="butt"/>
<line x1="168.4" y1="1353.3" x2="188.9" y2="1353.3" stroke="#000" stroke-width="3.8" stroke-linecap="butt"/>
<line x1="178.7" y1="1342.8" x2="178.7" y2="1363.9" stroke="#000" stroke-width="3.8" stroke-linecap="butt"/>
<line x1="325.1" y1="1353.3" x2="345.6" y2="1353.3" stroke="#000" stroke-width="3.8" stroke-linecap="butt"/>
<line x1="335.4" y1="1342.8" x2="335.4" y2="1363.9" stroke="#000" stroke-width="3.8" stroke-linecap="butt"/>
<line x1="484.9" y1="1353.3" x2="505.6" y2="1353.3" stroke="#000" stroke-width="3.8" stroke-linecap="butt"/>
<line x1="495.2" y1="1342.8" x2="495.2" y2="1363.9" stroke="#000" stroke-width="3.8" stroke-linecap="butt"/>
<text x="-0.5" y="1398.9" font-size="22.1" textLength="37.1" lengthAdjust="spacingAndGlyphs" fill="#000">kDa</text>
<text x="0" y="1435.3" font-size="22.1" textLength="35.2" lengthAdjust="spacingAndGlyphs" fill="#000">250</text>
<text x="0" y="1511.9" font-size="22.1" textLength="35.2" lengthAdjust="spacingAndGlyphs" fill="#000">250</text>
<text x="12.7" y="1627.4" font-size="22.1" textLength="22.5" lengthAdjust="spacingAndGlyphs" fill="#000">35</text>
<line x1="40.3" y1="1427.6" x2="58" y2="1427.6" stroke="#000" stroke-width="2.6" stroke-linecap="butt"/>
<line x1="39.4" y1="1504.1" x2="57" y2="1504.1" stroke="#000" stroke-width="2.6" stroke-linecap="butt"/>
<line x1="37.7" y1="1620.3" x2="55.5" y2="1620.3" stroke="#000" stroke-width="2.6" stroke-linecap="butt"/>
<rect x="64" y="1388.4" width="474" height="51.4" fill="#c6c6c6" filter="url(#sh)"/>
<rect x="57" y="1386.4" width="4" height="50.4" fill="#f3f3f3"/>
<rect x="64" y="1478.4" width="474" height="64.5" fill="#c6c6c6" filter="url(#sh)"/>
<rect x="57" y="1476.4" width="4" height="63.5" fill="#f3f3f3"/>
<rect x="64" y="1568.4" width="474" height="64.9" fill="#c6c6c6" filter="url(#sh)"/>
<rect x="57" y="1566.4" width="4" height="63.9" fill="#f3f3f3"/>
<filter id="nz" x="0" y="0" width="100%" height="100%"><feTurbulence type="fractalNoise" baseFrequency="0.35" numOctaves="2" seed="3"/><feColorMatrix type="matrix" values="0 0 0 0 0.5  0 0 0 0 0.5  0 0 0 0 0.5  0 0 0 1.2 -0.35"/></filter>
<g clip-path="url(#c1)">
<linearGradient id="g1" x1="0" y1="0" x2="0" y2="1"><stop offset="0" stop-color="#8c8c8c"/><stop offset="0.5" stop-color="#939393"/><stop offset="1" stop-color="#a3a3a3"/></linearGradient>
<rect x="60" y="1382.4" width="471.5" height="48.4" fill="url(#g1)"/>
<rect x="62" y="1376" width="146" height="60" fill="#7e7e7e" filter="url(#b3)"/>
<rect x="384" y="1376" width="147" height="60" fill="#858585" filter="url(#b3)"/>
<rect x="134" y="1376" width="15" height="60" fill="#b0b0b0" filter="url(#b2)"/>
<rect x="447" y="1376" width="14" height="60" fill="#a9a9a9" filter="url(#b2)"/>
<rect x="290" y="1400" width="70" height="30" fill="#a6a6a6" filter="url(#b4)"/>
<ellipse cx="103" cy="1409.5" rx="30" ry="9.5" fill="#0a0a0a" filter="url(#b4)"/>
<ellipse cx="96" cy="1409" rx="16" ry="6" fill="#0a0a0a" filter="url(#b3)"/>
<ellipse cx="180" cy="1409.5" rx="29" ry="9.5" fill="#141414" filter="url(#b4)"/>
<ellipse cx="102" cy="1424" rx="26" ry="6" fill="#5a5a5a" filter="url(#b4)"/>
<ellipse cx="180" cy="1424" rx="26" ry="6" fill="#555" filter="url(#b4)"/>
<ellipse cx="416" cy="1403" rx="28" ry="7" fill="#555" filter="url(#b4)"/>
<ellipse cx="495" cy="1401.5" rx="30" ry="6.5" fill="#646464" filter="url(#b4)"/>
<ellipse cx="416" cy="1429" rx="27" ry="4" fill="#555" filter="url(#b3)"/>
<ellipse cx="495" cy="1429" rx="30" ry="4" fill="#5e5e5e" filter="url(#b3)"/>
<rect x="60" y="1382.4" width="471.5" height="48.4" fill="#000" filter="url(#nz)" opacity="0.3"/>
</g>
<g clip-path="url(#c2)">
<rect x="60" y="1472.4" width="471.5" height="61.5" fill="#acacac"/>
<ellipse cx="413" cy="1499" rx="30" ry="3.3" fill="#656565" filter="url(#b1)"/>
<ellipse cx="490" cy="1498.5" rx="28" ry="3.2" fill="#6a6a6a" filter="url(#b1)"/>
<ellipse cx="469" cy="1498" rx="8" ry="3" fill="#4a4a4a" filter="url(#b1)"/>
<ellipse cx="178" cy="1501" rx="24" ry="2.2" fill="#9a9a9a" filter="url(#b1)"/>
<ellipse cx="100" cy="1501" rx="20" ry="2" fill="#a2a2a2" filter="url(#b1)"/>
</g>
<g clip-path="url(#c3)">
<rect x="60" y="1562.4" width="471.5" height="62" fill="#e4e4e4"/>
<rect x="64" y="1560" width="64" height="66" fill="#d2d2d2" filter="url(#b3)"/>
<rect x="141" y="1560" width="64" height="66" fill="#d4d4d4" filter="url(#b3)"/>
<rect x="372" y="1560" width="160" height="66" fill="#cfcfcf" filter="url(#b3)"/>
<ellipse cx="97" cy="1582" rx="29" ry="4" fill="#666" filter="url(#b2)"/>
<ellipse cx="173" cy="1582" rx="30" ry="4" fill="#666" filter="url(#b2)"/>
<ellipse cx="97" cy="1599" rx="27" ry="6" fill="#bbbbbb" filter="url(#b2)"/>
<ellipse cx="173" cy="1599" rx="27" ry="6" fill="#bbbbbb" filter="url(#b2)"/>
<ellipse cx="412" cy="1604" rx="33" ry="12" fill="#a5a5a5" filter="url(#b4)"/>
<ellipse cx="489" cy="1604" rx="33" ry="12" fill="#ababab" filter="url(#b4)"/>
<ellipse cx="410" cy="1584" rx="38" ry="11" fill="#000" filter="url(#b2)" opacity="0.7"/>
<ellipse cx="489" cy="1582" rx="38" ry="10" fill="#000" filter="url(#b2)" opacity="0.7"/>
<path d="M376 1580 Q376 1575 385 1575 L437 1575 Q446 1576 446 1580 Q444 1588 432 1591 L392 1591 Q378 1588 376 1580 Z" fill="#000"/>
<path d="M455 1579 Q455 1574 464 1574 L515 1574 Q524 1575 524 1579 Q522 1586 510 1588 L470 1588 Q457 1586 455 1579 Z" fill="#000"/>
<ellipse cx="416" cy="1594" rx="21" ry="3.2" fill="#000"/>
<ellipse cx="492" cy="1594.5" rx="20" ry="2.4" fill="#111"/>
</g>
<rect x="60.7" y="1382.4" width="470.8" height="48.4" fill="none" stroke="#000" stroke-width="2.6"/>
<rect x="60.7" y="1472.4" width="470.8" height="61.5" fill="none" stroke="#000" stroke-width="2.6"/>
<rect x="60.7" y="1562.4" width="470.8" height="61.9" fill="none" stroke="#000" stroke-width="2.6"/>
<text x="544" y="1417" font-size="24.6" textLength="109.4" lengthAdjust="spacingAndGlyphs" fill="#000">Senataxin</text>
<text x="549.5" y="1515.7" font-size="24.6" textLength="74.4" lengthAdjust="spacingAndGlyphs" fill="#000">BRCA1</text>
<text x="547.9" y="1608.6" font-size="25.3" textLength="210.5" lengthAdjust="spacingAndGlyphs" fill="#000">FLAG-HA-C16orf72</text>
<text x="752.4" y="1228.9" font-size="32.1" font-weight="bold" textLength="11.5" lengthAdjust="spacingAndGlyphs">f</text>
<circle cx="915.9" cy="1235.2" r="5" fill="#d4d4d4"/>
<circle cx="915.9" cy="1276.7" r="5" fill="#808080"/>
<text x="951" y="1243.4" font-size="25.2" textLength="38.5" lengthAdjust="spacingAndGlyphs" fill="#000">WT</text>
<text x="950.3" y="1284.3" font-size="25.2" textLength="136" lengthAdjust="spacingAndGlyphs" fill="#000"><tspan font-style="italic">c16orf72&#916;.2</tspan></text>
<line x1="912.3" y1="1686.4" x2="912.3" y2="1389.5" stroke="#000" stroke-width="3.2" stroke-linecap="butt"/>
<line x1="899.2" y1="1686.4" x2="912.3" y2="1686.4" stroke="#000" stroke-width="3.2" stroke-linecap="butt"/>
<text x="884.1" y="1694.3" font-size="23" font-weight="bold" textLength="12.2" lengthAdjust="spacingAndGlyphs">0</text>
<line x1="899.2" y1="1627.3" x2="912.3" y2="1627.3" stroke="#000" stroke-width="3.2" stroke-linecap="butt"/>
<text x="872" y="1635.2" font-size="23" font-weight="bold" textLength="24.3" lengthAdjust="spacingAndGlyphs">20</text>
<line x1="899.2" y1="1568.3" x2="912.3" y2="1568.3" stroke="#000" stroke-width="3.2" stroke-linecap="butt"/>
<text x="872" y="1576.2" font-size="23" font-weight="bold" textLength="24.3" lengthAdjust="spacingAndGlyphs">40</text>
<line x1="899.2" y1="1509.2" x2="912.3" y2="1509.2" stroke="#000" stroke-width="3.2" stroke-linecap="butt"/>
<text x="872" y="1517.1" font-size="23" font-weight="bold" textLength="24.3" lengthAdjust="spacingAndGlyphs">60</text>
<line x1="899.2" y1="1450.2" x2="912.3" y2="1450.2" stroke="#000" stroke-width="3.2" stroke-linecap="butt"/>
<text x="872" y="1458.1" font-size="23" font-weight="bold" textLength="24.3" lengthAdjust="spacingAndGlyphs">80</text>
<line x1="899.2" y1="1391.1" x2="912.3" y2="1391.1" stroke="#000" stroke-width="3.2" stroke-linecap="butt"/>
<text x="859.8" y="1399" font-size="23" font-weight="bold" textLength="36.5" lengthAdjust="spacingAndGlyphs">100</text>
<line x1="899.2" y1="1686.4" x2="1215.2" y2="1686.4" stroke="#000" stroke-width="3.2" stroke-linecap="butt"/>
<line x1="958.3" y1="1686.4" x2="958.3" y2="1699.4" stroke="#000" stroke-width="3" stroke-linecap="butt"/>
<line x1="1027.9" y1="1686.4" x2="1027.9" y2="1699.4" stroke="#000" stroke-width="3" stroke-linecap="butt"/>
<line x1="1097.4" y1="1686.4" x2="1097.4" y2="1699.4" stroke="#000" stroke-width="3" stroke-linecap="butt"/>
<line x1="1167" y1="1686.4" x2="1167" y2="1699.4" stroke="#000" stroke-width="3" stroke-linecap="butt"/>
<line x1="943" y1="1716" x2="1041.9" y2="1716" stroke="#000" stroke-width="2.9" stroke-linecap="butt"/>
<line x1="1086.3" y1="1716" x2="1184.4" y2="1716" stroke="#000" stroke-width="2.9" stroke-linecap="butt"/>
<text x="976.7" y="1746.7" font-size="25.5" textLength="30.9" lengthAdjust="spacingAndGlyphs" fill="#000">UT</text>
<text x="1118.1" y="1746.7" font-size="25.5" textLength="32.9" lengthAdjust="spacingAndGlyphs" fill="#000">HU</text>
<text transform="translate(843 1666.6) rotate(-90)" x="-2.3" y="0" font-size="30.5" textLength="260.7" lengthAdjust="spacingAndGlyphs">BRCA1 foci/ nucleus</text>
<path d="M958.1 1681.4h0M957.8 1571.2h0M959.8 1617.7h0M961.1 1639.1h0M952.7 1588.9h0M960.9 1662.9h0M962 1588.7h0M961.6 1600.7h0M959.4 1675.5h0M967.7 1614.4h0M961.8 1607.8h0M940.9 1627h0M943.5 1645.9h0M975.4 1636.2h0M964 1651h0M954.2 1645.5h0M951.8 1600.8h0M952.7 1664.3h0M968.8 1606.9h0M972.4 1626.5h0M947.2 1624.9h0M970 1647.5h0M957.6 1655.7h0M963.6 1624.8h0M958.7 1582.3h0M951.9 1609.2h0M966.5 1596.6h0M963.7 1576.1h0M970.6 1655h0M951.3 1616h0M951.1 1633.6h0M957.2 1629.6h0M968.2 1632.5h0M951.7 1671.4h0M950.5 1653.8h0M943.8 1637.8h0M953.9 1576.6h0M966.6 1641.8h0M954.3 1622.8h0M945.6 1618.8h0M957.8 1669.4h0M966.8 1665h0M958.4 1593.8h0M964.4 1657.5h0M948.9 1642h0M946 1658h0M972.4 1619.4h0M965.1 1582.1h0M975.3 1642.4h0M949.8 1594.8h0M952.4 1582.5h0M945.3 1631.8h0M957.3 1612.2h0M960.5 1645.1h0M943.7 1652.1h0M965.3 1670.8h0M954.9 1638.6h0M956.2 1604.9h0" stroke="#d4d4d4" stroke-width="9.4" stroke-linecap="round" fill="none"/>
<path d="M1028.2 1686.4h0M1027 1580.1h0M1035.6 1657.2h0M1020.8 1677.2h0M1013.6 1663.2h0M1029.2 1665.3h0M1037.3 1663h0M1020.5 1612.2h0M1034.1 1622.2h0M1039.3 1646.2h0M1014.7 1625h0M1021 1661.7h0M1024.6 1618.8h0M1025.5 1608.9h0M1038.4 1627.2h0M1019.8 1603.9h0M1018.1 1652.9h0M1024.4 1652.9h0M1045.1 1643.9h0M1012.5 1632.2h0M1033.3 1674.7h0M1023.8 1641.5h0M1040.9 1638.2h0M1028.9 1629.1h0M1040.6 1653.7h0M1014.8 1639.8h0M1024.4 1595h0M1020.9 1668.7h0M1030.8 1592.7h0M1031.9 1586.6h0M1034 1641.7h0M1011.2 1654.4h0M1022.4 1631.6h0M1033.3 1633.8h0M1034.6 1609.9h0M1038.8 1617.1h0M1033.5 1598.1h0M1034.9 1650.2h0M1032.2 1604h0M1018.8 1645.5h0M1027.3 1659.1h0M1023.2 1589.1h0M1043.2 1631h0M1027.1 1674.4h0M1023.4 1624.9h0M1027.9 1646h0M1016.3 1618.2h0M1031.4 1680.7h0M1031.4 1616.5h0M1034.8 1668.7h0M1043.4 1659.2h0M1013.1 1647.5h0M1026.3 1602.2h0M1027.5 1636.5h0M1027.9 1562.7h0M1027.9 1539h0M1027.9 1518.1h0" stroke="#808080" stroke-width="9.4" stroke-linecap="round" fill="none"/>
<path d="M1096.5 1671.6h0M1097.8 1496.2h0M1102.1 1646.4h0M1096.1 1584.2h0M1095.6 1575.7h0M1097.3 1654.8h0M1103.7 1663.1h0M1100 1524.5h0M1105.3 1580h0M1103.8 1569.1h0M1103.8 1655.1h0M1097.6 1514h0M1102.6 1548.6h0M1098.2 1534.7h0M1099.8 1607.1h0M1084.7 1566.1h0M1086.4 1644.6h0M1085.8 1577.8h0M1093.6 1546.7h0M1091.2 1568.8h0M1090.1 1610.8h0M1095.9 1503.5h0M1112.3 1633.7h0M1084.2 1632.2h0M1110.6 1564.1h0M1092.8 1537.6h0M1090.5 1636.6h0M1092.2 1621.5h0M1105.5 1587.3h0M1111.9 1570.8h0M1097.9 1564.5h0M1096.3 1626.7h0M1105.7 1624.8h0M1108.6 1639h0M1100.5 1591.1h0M1102.8 1635.6h0M1086.5 1652.2h0M1105.3 1599.7h0M1099.4 1555.2h0M1095.6 1615.4h0M1092.1 1649.7h0M1087.6 1594.2h0M1106 1593.6h0M1099.7 1543.2h0M1085.8 1615.8h0M1110.1 1620.6h0M1108.4 1611.2h0M1094.4 1527.8h0M1103.3 1615.7h0M1092.1 1560.3h0M1094.9 1603.5h0M1085.9 1559.9h0M1089.7 1554.7h0M1086.1 1603.1h0M1093.9 1641.7h0M1090.4 1660.6h0M1096.7 1635.4h0M1108.5 1604.9h0M1105.5 1556.5h0M1096.3 1662.2h0M1083.3 1572.2h0M1088.7 1586.7h0M1084.4 1624.5h0M1109.8 1647.7h0M1099.5 1597.6h0M1092.9 1591.2h0M1099.2 1621.3h0M1090.1 1627.8h0M1083.9 1638.8h0M1100.4 1507.6h0M1094.6 1521h0M1103.9 1563.1h0M1093.3 1597.5h0M1091.5 1580.2h0M1102 1574.9h0M1111.3 1627.5h0M1097.4 1477.3h0M1097.4 1459.6h0M1097.4 1439.5h0" stroke="#d4d4d4" stroke-width="9.4" stroke-linecap="round" fill="none"/>
<path d="M1166.8 1678.4h0M1167.1 1524.9h0M1164.6 1546.1h0M1157.3 1674h0M1184.4 1654.4h0M1165 1571.9h0M1157.7 1572.3h0M1153.6 1661.2h0M1167.6 1531.2h0M1157.9 1649.5h0M1175.3 1670.9h0M1172.5 1611.4h0M1170.9 1628h0M1159.9 1587.8h0M1174.3 1573.4h0M1175.7 1644.2h0M1180.6 1579.1h0M1155.8 1623.7h0M1171.4 1583.3h0M1159.8 1636.7h0M1167.4 1638.1h0M1162.4 1594.5h0M1169.6 1538.4h0M1167.5 1560.1h0M1169 1551.7h0M1179 1615.1h0M1163.8 1565.4h0M1170.8 1618.3h0M1179.7 1631.1h0M1161.6 1629h0M1163.7 1655.5h0M1159.7 1604.7h0M1165.3 1672.1h0M1175.9 1596.9h0M1171.9 1589.7h0M1178.4 1587.7h0M1180.9 1661.1h0M1162.5 1612.9h0M1176.8 1603.2h0M1163.7 1539.8h0M1155.9 1613.3h0M1173.8 1655.9h0M1151.4 1641.9h0M1163.9 1665.9h0M1172.3 1663.9h0M1169.3 1577.4h0M1162.7 1554h0M1175.1 1636.5h0M1153.9 1580h0M1166.5 1602.1h0M1183.1 1638.6h0M1165.6 1645.6h0M1149.2 1649.4h0M1154.3 1632.2h0M1180.9 1624.5h0M1162.4 1581.8h0M1168.9 1652h0M1157.4 1655.6h0M1174 1564.6h0M1157.6 1666.8h0M1168.7 1596.1h0M1160.1 1618.9h0M1181.8 1668.3h0M1182.5 1645.1h0M1157.5 1642.5h0M1173.3 1558h0M1176.7 1650.5h0M1149.8 1655.9h0M1157.7 1598.8h0M1156.4 1592.8h0M1170.8 1545.8h0M1165.9 1622.6h0M1173 1677.7h0M1160 1560.7h0M1160.5 1660.9h0M1174.8 1623h0M1151.5 1667.1h0M1166.4 1608.2h0M1165.9 1588h0M1153.7 1586.8h0M1168.6 1659h0M1167 1480h0M1167 1462h0" stroke="#808080" stroke-width="9.4" stroke-linecap="round" fill="none"/>
<line x1="935.3" y1="1633.2" x2="981.3" y2="1633.2" stroke="#000" stroke-width="3.3" stroke-linecap="butt"/>
<line x1="1004.9" y1="1636.2" x2="1050.9" y2="1636.2" stroke="#000" stroke-width="3.3" stroke-linecap="butt"/>
<line x1="1073.9" y1="1591.3" x2="1120.9" y2="1591.3" stroke="#000" stroke-width="3.3" stroke-linecap="butt"/>
<line x1="1143.5" y1="1617" x2="1190.5" y2="1617" stroke="#000" stroke-width="3.3" stroke-linecap="butt"/>
<line x1="1027.9" y1="1632.6" x2="1027.9" y2="1639.8" stroke="#000" stroke-width="2.4" stroke-linecap="butt"/>
<line x1="1016.4" y1="1632.6" x2="1039.4" y2="1632.6" stroke="#000" stroke-width="2.4" stroke-linecap="butt"/>
<line x1="1016.4" y1="1639.8" x2="1039.4" y2="1639.8" stroke="#000" stroke-width="2.4" stroke-linecap="butt"/>
<line x1="1097.4" y1="1585.3" x2="1097.4" y2="1597.3" stroke="#000" stroke-width="2.4" stroke-linecap="butt"/>
<line x1="1085.9" y1="1585.3" x2="1108.9" y2="1585.3" stroke="#000" stroke-width="2.4" stroke-linecap="butt"/>
<line x1="1085.9" y1="1597.3" x2="1108.9" y2="1597.3" stroke="#000" stroke-width="2.4" stroke-linecap="butt"/>
<line x1="1167" y1="1611.7" x2="1167" y2="1622.3" stroke="#000" stroke-width="2.4" stroke-linecap="butt"/>
<line x1="1155.5" y1="1611.7" x2="1178.5" y2="1611.7" stroke="#000" stroke-width="2.4" stroke-linecap="butt"/>
<line x1="1155.5" y1="1622.3" x2="1178.5" y2="1622.3" stroke="#000" stroke-width="2.4" stroke-linecap="butt"/>
<line x1="952.7" y1="1472.6" x2="1031.5" y2="1472.6" stroke="#000" stroke-width="3" stroke-linecap="butt"/>
<line x1="952.7" y1="1459.6" x2="952.7" y2="1485.9" stroke="#000" stroke-width="3" stroke-linecap="butt"/>
<line x1="1031.5" y1="1459.6" x2="1031.5" y2="1485.9" stroke="#000" stroke-width="3" stroke-linecap="butt"/>
<text x="979.5" y="1458" font-size="25" textLength="25.5" lengthAdjust="spacingAndGlyphs" fill="#000">ns</text>
<line x1="952.2" y1="1406.7" x2="1097.4" y2="1406.7" stroke="#000" stroke-width="3.1" stroke-linecap="butt"/>
<line x1="952.2" y1="1393.2" x2="952.2" y2="1420.2" stroke="#000" stroke-width="3.1" stroke-linecap="butt"/>
<line x1="1097.4" y1="1393.2" x2="1097.4" y2="1420.2" stroke="#000" stroke-width="3.1" stroke-linecap="butt"/>
<path d="M998.5 1381.8L998.5 1395.2M992.7 1385.1L1004.3 1391.9M992.7 1391.9L1004.3 1385.1" stroke="#000" stroke-width="2.7" stroke-linecap="butt"/>
<path d="M1017.3 1381.8L1017.3 1395.2M1011.5 1385.1L1023.1 1391.9M1011.5 1391.9L1023.1 1385.1" stroke="#000" stroke-width="2.7" stroke-linecap="butt"/>
<path d="M1036.1 1381.8L1036.1 1395.2M1030.3 1385.1L1041.9 1391.9M1030.3 1391.9L1041.9 1385.1" stroke="#000" stroke-width="2.7" stroke-linecap="butt"/>
<path d="M1054.9 1381.8L1054.9 1395.2M1049.1 1385.1L1060.7 1391.9M1049.1 1391.9L1060.7 1385.1" stroke="#000" stroke-width="2.7" stroke-linecap="butt"/>
<line x1="1097.4" y1="1369.6" x2="1164.8" y2="1369.6" stroke="#000" stroke-width="3.1" stroke-linecap="butt"/>
<line x1="1097.4" y1="1356.6" x2="1097.4" y2="1382.6" stroke="#000" stroke-width="3.1" stroke-linecap="butt"/>
<line x1="1164.8" y1="1356.6" x2="1164.8" y2="1382.6" stroke="#000" stroke-width="3.1" stroke-linecap="butt"/>
<path d="M1122.8 1344.2L1122.8 1357.8M1117 1347.6L1128.6 1354.4M1117 1354.4L1128.6 1347.6" stroke="#000" stroke-width="2.7" stroke-linecap="butt"/>
<path d="M1141.6 1344.2L1141.6 1357.8M1135.8 1347.6L1147.4 1354.4M1135.8 1354.4L1147.4 1347.6" stroke="#000" stroke-width="2.7" stroke-linecap="butt"/>
<line x1="1028.1" y1="1333.3" x2="1168.9" y2="1333.3" stroke="#000" stroke-width="3.1" stroke-linecap="butt"/>
<line x1="1028.1" y1="1320.3" x2="1028.1" y2="1346.8" stroke="#000" stroke-width="3.1" stroke-linecap="butt"/>
<line x1="1168.9" y1="1320.3" x2="1168.9" y2="1346.8" stroke="#000" stroke-width="3.1" stroke-linecap="butt"/>
<path d="M1089.6 1308.5L1089.6 1322M1083.8 1311.9L1095.4 1318.7M1083.8 1318.7L1095.4 1311.9" stroke="#000" stroke-width="2.7" stroke-linecap="butt"/>
<path d="M1108.4 1308.5L1108.4 1322M1102.6 1311.9L1114.2 1318.7M1102.6 1318.7L1114.2 1311.9" stroke="#000" stroke-width="2.7" stroke-linecap="butt"/>
<text x="14.2" y="1754.3" font-size="30.8" font-weight="bold" textLength="18.6" lengthAdjust="spacingAndGlyphs">g</text>
<circle cx="145.6" cy="1782" r="5" fill="#d4d4d4"/>
<circle cx="145.6" cy="1822.4" r="5" fill="#808080"/>
<text x="178.8" y="1790.9" font-size="25.9" textLength="37.4" lengthAdjust="spacingAndGlyphs" fill="#000">WT</text>
<text x="177.9" y="1830.2" font-size="25.9" textLength="131.2" lengthAdjust="spacingAndGlyphs" fill="#000">c16orf72&#916;.2</text>
<line x1="200.5" y1="2237.1" x2="200.5" y2="1943.9" stroke="#000" stroke-width="3.1" stroke-linecap="butt"/>
<line x1="188.2" y1="2237.1" x2="200.5" y2="2237.1" stroke="#000" stroke-width="3.1" stroke-linecap="butt"/>
<text x="173.2" y="2245" font-size="23" font-weight="bold" textLength="12.5" lengthAdjust="spacingAndGlyphs">0</text>
<line x1="188.2" y1="2178.8" x2="200.5" y2="2178.8" stroke="#000" stroke-width="3.1" stroke-linecap="butt"/>
<text x="160.7" y="2186.7" font-size="23" font-weight="bold" textLength="24.9" lengthAdjust="spacingAndGlyphs">50</text>
<line x1="188.2" y1="2120.4" x2="200.5" y2="2120.4" stroke="#000" stroke-width="3.1" stroke-linecap="butt"/>
<text x="148.2" y="2128.3" font-size="23" font-weight="bold" textLength="37.4" lengthAdjust="spacingAndGlyphs">100</text>
<line x1="188.2" y1="2062.1" x2="200.5" y2="2062.1" stroke="#000" stroke-width="3.1" stroke-linecap="butt"/>
<text x="148.2" y="2070" font-size="23" font-weight="bold" textLength="37.4" lengthAdjust="spacingAndGlyphs">150</text>
<line x1="188.2" y1="2003.7" x2="200.5" y2="2003.7" stroke="#000" stroke-width="3.1" stroke-linecap="butt"/>
<text x="148.2" y="2011.6" font-size="23" font-weight="bold" textLength="37.4" lengthAdjust="spacingAndGlyphs">200</text>
<line x1="188.2" y1="1945.4" x2="200.5" y2="1945.4" stroke="#000" stroke-width="3.1" stroke-linecap="butt"/>
<text x="148.2" y="1953.3" font-size="23" font-weight="bold" textLength="37.4" lengthAdjust="spacingAndGlyphs">250</text>
<line x1="188.1" y1="2237.1" x2="493" y2="2237.1" stroke="#000" stroke-width="3.1" stroke-linecap="butt"/>
<line x1="245.2" y1="2237.1" x2="245.2" y2="2249.4" stroke="#000" stroke-width="2.9" stroke-linecap="butt"/>
<line x1="312.4" y1="2237.1" x2="312.4" y2="2249.4" stroke="#000" stroke-width="2.9" stroke-linecap="butt"/>
<line x1="379.6" y1="2237.1" x2="379.6" y2="2249.4" stroke="#000" stroke-width="2.9" stroke-linecap="butt"/>
<line x1="446.8" y1="2237.1" x2="446.8" y2="2249.4" stroke="#000" stroke-width="2.9" stroke-linecap="butt"/>
<line x1="232.3" y1="2272.4" x2="325.5" y2="2272.4" stroke="#000" stroke-width="2.9" stroke-linecap="butt"/>
<line x1="368.6" y1="2272.4" x2="461.5" y2="2272.4" stroke="#000" stroke-width="2.9" stroke-linecap="butt"/>
<text x="264.3" y="2299.9" font-size="25.2" textLength="29.2" lengthAdjust="spacingAndGlyphs" fill="#000">UT</text>
<text x="402.3" y="2299.9" font-size="25.2" textLength="31.2" lengthAdjust="spacingAndGlyphs" fill="#000">HU</text>
<text transform="translate(129.8 2214.5) rotate(-90)" x="-1.3" y="0" font-size="30.5" textLength="249.9" lengthAdjust="spacingAndGlyphs">SETX foci / nucleus</text>
<path d="M244.7 2215.5h0M245.2 2136.3h0M247.7 2172.1h0M242.9 2148h0M234.3 2177.7h0M250.5 2166.7h0M244.2 2180.8h0M258.8 2182.6h0M241.1 2172h0M256.2 2169.1h0M238.6 2192.2h0M254.5 2177.7h0M248.4 2190.2h0M247.1 2208.8h0M241.4 2200.2h0M247.9 2153.7h0M243.9 2161.6h0M241.8 2155.4h0M247 2142.3h0M247.6 2200.4h0M232.8 2170.5h0M236.7 2185.8h0M252.9 2195.1h0M254.1 2187.7h0M250.4 2160.4h0M242.6 2187.2h0M230.7 2183h0M238.1 2164.9h0M261.2 2175.4h0M250.1 2182.3h0M249.3 2147.8h0M244.6 2194.9h0" stroke="#d4d4d4" stroke-width="9.4" stroke-linecap="round" fill="none"/>
<path d="M313.4 2200.9h0M311.5 2106.4h0M313.6 2114.1h0M307.6 2161.9h0M310.9 2141.3h0M318.5 2179.1h0M324.8 2161.6h0M312.9 2187.5h0M307.5 2184h0M305.9 2150.9h0M315.6 2127.2h0M312.7 2194.3h0M312.6 2120.8h0M305.9 2171h0M326.3 2170h0M313.9 2135.4h0M320.4 2189.9h0M318.8 2168.5h0M312.5 2172.5h0M311.6 2156.6h0M319.9 2196.3h0M317.4 2145h0M303.9 2177.9h0M306.4 2190.6h0M321.2 2151.3h0M299.9 2164.1h0M300.7 2156.6h0M308.9 2129.3h0M307.8 2198.5h0M311.5 2148h0M316.8 2160h0M299.9 2171.7h0M312.9 2165.6h0M325.3 2176.2h0M311.9 2179.8h0M305.3 2143.5h0M307.7 2135.8h0" stroke="#808080" stroke-width="9.4" stroke-linecap="round" fill="none"/>
<path d="M379.8 2170.6h0M380.4 2034.1h0M390.7 2108.3h0M386.3 2099.5h0M377.1 2053.4h0M378.9 2147.5h0M379.7 2139.4h0M384.1 2082.3h0M373.8 2114.3h0M373.6 2139.5h0M388.5 2118.1h0M377.7 2069.5h0M380.7 2160h0M386.3 2128.1h0M371.3 2085.4h0M383.9 2152.3h0M372.7 2126.6h0M371 2078.9h0M380.2 2123.3h0M383.4 2105.1h0M367.9 2099.5h0M380.4 2045.2h0M377.4 2061.4h0M381.1 2088.8h0M389.7 2077.7h0M376.1 2095.8h0M367.1 2106.6h0M392.2 2095.9h0M380.9 2074.9h0M377.5 2154.4h0M371.1 2071h0M388.2 2070.7h0M385.2 2135.2h0M388.4 2087.9h0M365 2092.5h0M383.6 2065.2h0M374.5 2103.7h0M379.8 2116h0M393.2 2083.5h0M376.5 2132.6h0M385.5 2093.3h0M374.4 2120.6h0M378.5 2109.7h0M384.4 2143.9h0M395.5 2090.1h0M383.8 2057.1h0M365.2 2085.9h0M377.9 2082.6h0M377.1 2039.5h0M385 2111.9h0M382.9 2050.8h0M371.7 2091.6h0M392.4 2102h0M379.6 2180.5h0M379.6 1994.9h0M379.6 1979.9h0" stroke="#d4d4d4" stroke-width="9.4" stroke-linecap="round" fill="none"/>
<path d="M447.6 2181.1h0M446.1 2092.4h0M462.7 2131.8h0M449.4 2147.4h0M459.3 2147.2h0M462.7 2116.9h0M448.3 2132.4h0M439 2135.4h0M445 2157.9h0M434.9 2101.5h0M433.2 2157.5h0M449.4 2119h0M442.1 2143.2h0M454.6 2154.9h0M446.9 2173.9h0M460.2 2110.4h0M444.1 2127.5h0M451.4 2106.8h0M434.8 2108.5h0M437.7 2115.2h0M429.6 2135h0M459.5 2125.4h0M431.4 2141.5h0M440.1 2121.7h0M438.1 2148.2h0M430.6 2120.3h0M443.4 2108.4h0M453.4 2171.7h0M449.6 2098.6h0M459.4 2159.7h0M443.3 2165.2h0M457.2 2138.7h0M454 2164h0M463.7 2142h0M444.5 2102h0M454.7 2093.6h0M431.3 2128h0M431.4 2147.6h0M458.5 2102.9h0M436 2163.9h0M449.3 2138.7h0M451.8 2125.7h0M439.2 2093.6h0M455.5 2131.5h0M443.9 2151h0M448.6 2112.2h0M456.4 2116.8h0M439.1 2169.9h0M460.6 2153.4h0M431.4 2114.1h0M443.8 2116h0M437.2 2129.4h0M449 2167.4h0M439.2 2155.8h0M446.8 2068.5h0" stroke="#808080" stroke-width="9.4" stroke-linecap="round" fill="none"/>
<line x1="224.6" y1="2176.4" x2="267" y2="2176.4" stroke="#000" stroke-width="3.4" stroke-linecap="butt"/>
<line x1="290.8" y1="2161.3" x2="334.4" y2="2161.3" stroke="#000" stroke-width="3.4" stroke-linecap="butt"/>
<line x1="359" y1="2097.6" x2="401.8" y2="2097.6" stroke="#000" stroke-width="3.4" stroke-linecap="butt"/>
<line x1="425.6" y1="2133.3" x2="469.2" y2="2133.3" stroke="#000" stroke-width="3.4" stroke-linecap="butt"/>
<line x1="242.7" y1="2067.8" x2="315.9" y2="2067.8" stroke="#000" stroke-width="3.1" stroke-linecap="butt"/>
<line x1="242.7" y1="2055.3" x2="242.7" y2="2080.3" stroke="#000" stroke-width="3.1" stroke-linecap="butt"/>
<line x1="315.9" y1="2055.3" x2="315.9" y2="2080.3" stroke="#000" stroke-width="3.1" stroke-linecap="butt"/>
<text x="266.2" y="2053.2" font-size="25" textLength="25.5" lengthAdjust="spacingAndGlyphs" fill="#000">ns</text>
<line x1="248.5" y1="1913" x2="381.4" y2="1913" stroke="#000" stroke-width="3.1" stroke-linecap="butt"/>
<line x1="248.5" y1="1900.5" x2="248.5" y2="1925.5" stroke="#000" stroke-width="3.1" stroke-linecap="butt"/>
<line x1="381.4" y1="1900.5" x2="381.4" y2="1925.5" stroke="#000" stroke-width="3.1" stroke-linecap="butt"/>
<path d="M288.6 1888L288.6 1901.5M282.8 1891.3L294.4 1898.1M282.8 1898.1L294.4 1891.3" stroke="#000" stroke-width="2.7" stroke-linecap="butt"/>
<path d="M307.4 1888L307.4 1901.5M301.6 1891.3L313.2 1898.1M301.6 1898.1L313.2 1891.3" stroke="#000" stroke-width="2.7" stroke-linecap="butt"/>
<path d="M326.2 1888L326.2 1901.5M320.4 1891.3L332 1898.1M320.4 1898.1L332 1891.3" stroke="#000" stroke-width="2.7" stroke-linecap="butt"/>
<path d="M345 1888L345 1901.5M339.2 1891.3L350.8 1898.1M339.2 1898.1L350.8 1891.3" stroke="#000" stroke-width="2.7" stroke-linecap="butt"/>
<line x1="379.4" y1="1950.7" x2="448.8" y2="1950.7" stroke="#000" stroke-width="3.1" stroke-linecap="butt"/>
<line x1="379.4" y1="1938.2" x2="379.4" y2="1963.2" stroke="#000" stroke-width="3.1" stroke-linecap="butt"/>
<line x1="448.8" y1="1938.2" x2="448.8" y2="1963.2" stroke="#000" stroke-width="3.1" stroke-linecap="butt"/>
<path d="M396.8 1926.5L396.8 1940M391 1929.8L402.6 1936.6M391 1936.6L402.6 1929.8" stroke="#000" stroke-width="2.7" stroke-linecap="butt"/>
<path d="M415.6 1926.5L415.6 1940M409.8 1929.8L421.4 1936.6M409.8 1936.6L421.4 1929.8" stroke="#000" stroke-width="2.7" stroke-linecap="butt"/>
<path d="M434.4 1926.5L434.4 1940M428.6 1929.8L440.2 1936.6M428.6 1936.6L440.2 1929.8" stroke="#000" stroke-width="2.7" stroke-linecap="butt"/>
</svg>
</body></html>
